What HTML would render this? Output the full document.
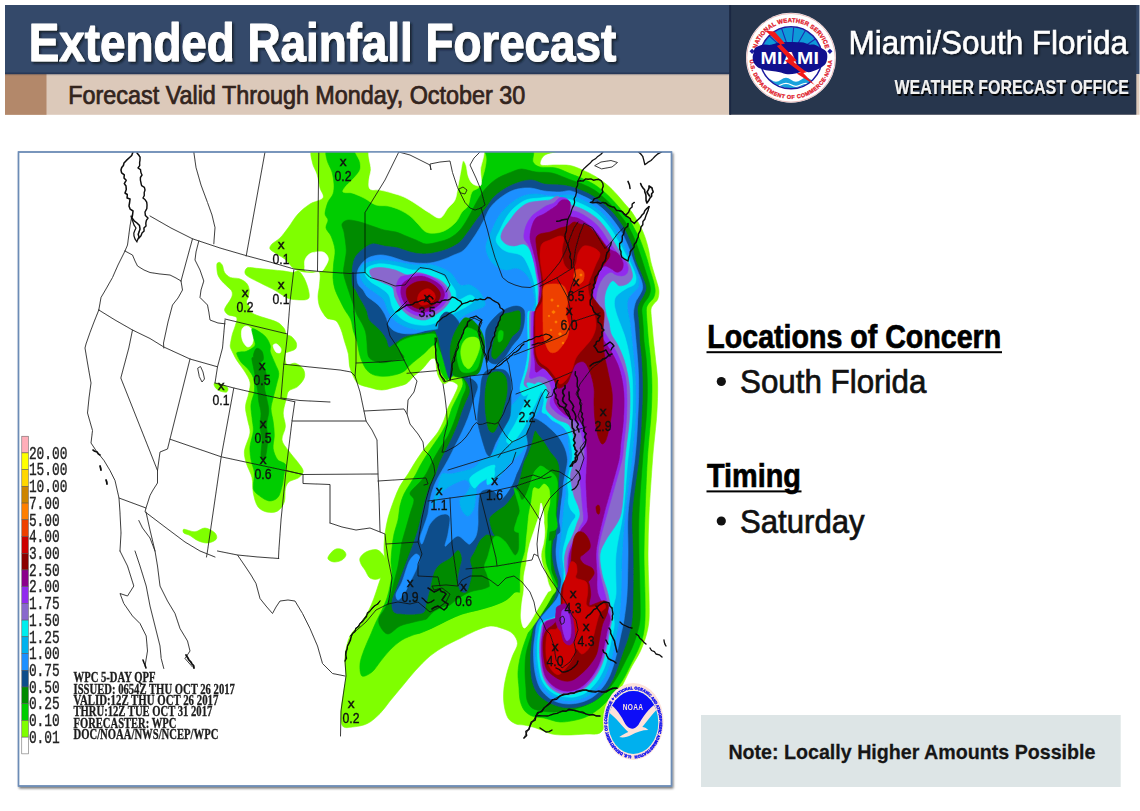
<!DOCTYPE html>
<html><head><meta charset="utf-8"><title>Extended Rainfall Forecast</title>
<style>
html,body{margin:0;padding:0;background:#fff;}
body{width:1140px;height:811px;position:relative;overflow:hidden;font-family:"Liberation Sans",sans-serif;}
#s{position:absolute;left:0;top:0;width:1140px;height:811px;display:block}
</style></head><body>
<svg id="s" width="1140" height="811" viewBox="0 0 1140 811">
<defs>
<filter id="ts" x="-5%" y="-20%" width="110%" height="150%"><feDropShadow dx="2" dy="2" stdDeviation="1.3" flood-color="#0a1424" flood-opacity="0.85"/></filter>
<filter id="ts2" x="-5%" y="-20%" width="110%" height="150%"><feDropShadow dx="1.5" dy="1.5" stdDeviation="0.9" flood-color="#000" flood-opacity="0.7"/></filter>
<filter id="ts3" x="-5%" y="-20%" width="110%" height="160%"><feDropShadow dx="1.6" dy="2" stdDeviation="0.5" flood-color="#000" flood-opacity="0.95"/></filter>
<filter id="bs" x="-2%" y="-2%" width="105%" height="105%"><feDropShadow dx="1.2" dy="1.8" stdDeviation="1.2" flood-color="#000" flood-opacity="0.55"/></filter>
<filter id="mb" x="0" y="0" width="100%" height="100%" filterUnits="userSpaceOnUse"><feGaussianBlur stdDeviation="0.55"/></filter>
<clipPath id="mc"><rect x="19" y="152.5" width="652" height="633"/></clipPath>
</defs>

<rect x="5" y="5" width="1134.5" height="69.2" fill="#34496a"/>
<rect x="5" y="74" width="1134.5" height="40.8" fill="#dcc9ba"/>
<rect x="5" y="74" width="41.5" height="40.8" fill="#b3886a"/>
<linearGradient id="hg" x1="0" y1="0" x2="0" y2="1"><stop offset="0" stop-color="#1c2a48" stop-opacity="0.75"/><stop offset="1" stop-color="#1c2a48" stop-opacity="0"/></linearGradient>
<rect x="5" y="72.6" width="724.3" height="3.2" fill="url(#hg)"/>
<rect x="729.3" y="5" width="407" height="109.7" fill="#27364d"/>
<rect x="729.3" y="5" width="1.8" height="109.7" fill="#1a2742"/>
<text transform="translate(28.80,61.00) scale(0.8557,1)" font-family='"Liberation Sans", sans-serif' font-size="53.5" font-weight="bold" fill="#fff" filter="url(#ts)" stroke="#fff" stroke-width="1.1" stroke-linejoin="round">Extended Rainfall Forecast</text>
<text transform="translate(68.30,104.00) scale(0.9343,1)" font-family='"Liberation Sans", sans-serif' font-size="25" font-weight="normal" fill="#33241d" stroke="#33241d" stroke-width="0.75">Forecast Valid Through Monday, October 30</text>
<text transform="translate(848.50,54.00) scale(0.9382,1)" font-family='"Liberation Sans", sans-serif' font-size="33.5" font-weight="normal" fill="#fff" filter="url(#ts2)" stroke="#fff" stroke-width="0.5">Miami/South Florida</text>
<text transform="translate(894.50,94.00) scale(0.7974,1)" font-family='"Liberation Sans", sans-serif' font-size="20" font-weight="bold" fill="#f1f1f1" filter="url(#ts3)">WEATHER FORECAST OFFICE</text>
<g transform="translate(791,57.8)">
<circle r="45" fill="#fff"/>
<circle r="44.3" fill="none" stroke="#e3a0a0" stroke-width="0.7"/>
<path id="mTop" d="M-35.6,0 A35.6,35.6 0 0 1 35.6,0" fill="none"/>
<path id="mBot" d="M-41.2,0 A41.2,41.2 0 0 0 41.2,0" fill="none"/>
<text font-family='"Liberation Sans", sans-serif' font-size="6.0" font-weight="bold" fill="#e0202c" stroke="#e0202c" stroke-width="0.3" letter-spacing="0.15"><textPath href="#mTop" startOffset="50%" text-anchor="middle">NATIONAL WEATHER SERVICE</textPath></text>
<text font-family='"Liberation Sans", sans-serif' font-size="5.5" font-weight="bold" fill="#e0202c" stroke="#e0202c" stroke-width="0.3" letter-spacing="0.42"><textPath href="#mBot" startOffset="50%" text-anchor="middle">U.S. DEPARTMENT OF COMMERCE·NOAA</textPath></text>
<path d="M-41.5,-6.5l2.6,-2.6l2.6,2.6l-2.6,2.6z M41.5,-6.5l-2.6,-2.6l-2.6,2.6l2.6,2.6z" fill="#1a1aa0"/>
<clipPath id="mcl"><circle r="30.6"/></clipPath>
<circle r="31" fill="#fff"/>
<g clip-path="url(#mcl)">
 <rect x="-32" y="-32" width="64" height="34" fill="#0e9ad8"/>
 <g stroke="#1c2cb0" stroke-width="1.1">
  <path d="M0,-2L-34,-10M0,-2L-26,-26M0,-2L-11,-34M0,-2L3,-34M0,-2L17,-32M0,-2L29,-22M0,-2L36,-8"/>
 </g>
 <path d="M-28,-19 A31,31 0 0 1 28,-19" fill="none" stroke="#1a1aa0" stroke-width="2"/>
 <path d="M-32,12 q5,-3.5 10,0 t10,0 t10,0 t10,0 t10,0 t10,0 v12 h-60z" fill="#fff"/>
 <path d="M-30,22 q5,-4 10,0 t10,0 t10,0 t10,0 t10,0 t10,0 v12 h-60z" fill="#18a2dc"/>
 <path d="M-30,27 q5,-3 10,0 t10,0 t10,0 t10,0 t10,0 t10,0" fill="none" stroke="#fff" stroke-width="1.2"/>
</g>
<circle r="31" fill="none" stroke="#1a1aa0" stroke-width="1.5"/>
<path d="M-37.6,-4.0C-37.3,-5.3 -37.2,-7.9 -36.3,-9.2C-35.4,-10.5 -33.8,-11.3 -32.3,-11.9C-30.7,-12.6 -28.8,-13.0 -27.0,-13.2C-24.9,-13.4 -22.3,-12.7 -20.0,-13.0C-17.6,-13.3 -15.1,-14.8 -12.5,-15.2C-9.3,-15.7 -4.6,-15.8 -0.7,-15.8C3.5,-15.8 9.4,-15.6 12.5,-15.2C14.4,-14.9 16.2,-13.5 18.0,-13.2C19.6,-12.9 21.4,-13.6 23.0,-13.2C24.7,-12.8 26.6,-11.6 28.4,-10.6C30.4,-9.5 33.7,-8.2 35.0,-6.6C36.2,-5.2 36.3,-3.1 36.3,-1.3C36.3,0.7 35.9,3.5 35.0,5.3C34.2,7.0 32.5,8.1 31.0,9.2C29.4,10.3 27.5,11.2 25.7,11.9C23.5,12.8 20.0,14.3 17.8,14.5C16.0,14.7 14.3,13.0 12.5,13.2C10.3,13.4 7.2,15.2 4.6,15.8C2.0,16.3 -0.7,16.7 -3.3,16.5C-5.9,16.3 -8.6,15.1 -11.2,14.5C-13.8,14.0 -16.5,13.6 -19.1,13.2C-21.7,12.8 -24.6,12.6 -27.0,11.9C-29.3,11.3 -31.8,10.5 -33.6,9.2C-35.4,7.9 -36.8,5.8 -37.6,4.0C-38.3,2.4 -38.3,0.0 -38.3,-1.3C-38.3,-2.2 -37.8,-3.1 -37.6,-4.0Z" fill="#10108e"/>
<text transform="translate(-30.4,6.6) scale(1.22,1)" font-family='"Liberation Sans", sans-serif' font-size="16" font-weight="bold" fill="#fff" letter-spacing="0.2">MIAMI</text>
<path d="M-25.5,-27 l9,0.6 l10.5,12 l-4,1.2 l15.8,15.8 l-3.4,1.3 l13.2,10.6 l-3.3,0.7 l11.4,12 l-18,-11.4 l4,-1.3 l-15.9,-11.9 l4,-1.3 l-11.9,-13.2 l3.3,-1.3z" fill="#f01818"/>
</g>
<text transform="translate(707.30,347.80) scale(0.8413,1)" font-family='"Liberation Sans", sans-serif' font-size="34" font-weight="bold" fill="#000" stroke="#000" stroke-width="0.7">Locations of Concern</text>
<rect x="706.5" y="351.2" width="295.5" height="2" fill="#000"/>
<circle cx="721.3" cy="381.5" r="4.6" fill="#111"/>
<text transform="translate(740.00,393.40) scale(0.9355,1)" font-family='"Liberation Sans", sans-serif' font-size="33.5" font-weight="normal" fill="#111" stroke="#111" stroke-width="0.7">South Florida</text>
<text transform="translate(707.00,487.20) scale(0.8483,1)" font-family='"Liberation Sans", sans-serif' font-size="34" font-weight="bold" fill="#000" stroke="#000" stroke-width="0.7">Timing</text>
<rect x="706.5" y="490.4" width="95" height="2" fill="#000"/>
<circle cx="721.3" cy="521" r="4.6" fill="#111"/>
<text transform="translate(740.00,532.80) scale(0.9293,1)" font-family='"Liberation Sans", sans-serif' font-size="33.5" font-weight="normal" fill="#111" stroke="#111" stroke-width="0.7">Saturday</text>
<rect x="701" y="715" width="419.7" height="72" fill="#dde5e6"/>
<text transform="translate(728.40,759.40) scale(0.9449,1)" font-family='"Liberation Sans", sans-serif' font-size="20.8" font-weight="bold" fill="#161616" stroke="#161616" stroke-width="0.25">Note: Locally Higher Amounts Possible</text>
<rect x="18.5" y="152" width="653" height="634" fill="#fff" stroke="#6f8fb8" stroke-width="1.4" filter="url(#bs)"/>
<g clip-path="url(#mc)"><g filter="url(#mb)">
<g stroke-linejoin="round">
<path d="M313.0,150.0C308.7,150.2 311.8,159.0 312.5,163.0C313.2,166.9 315.9,170.2 317.0,174.0C318.2,178.2 319.0,184.0 320.0,188.0C320.8,191.4 324.7,195.3 323.0,198.0C321.3,200.7 314.0,201.4 310.0,204.0C305.8,206.7 301.5,210.2 298.0,214.0C294.3,218.0 291.0,224.0 288.0,228.0C285.4,231.4 282.7,235.3 280.0,238.0C277.6,240.4 273.7,242.2 272.0,244.0C270.8,245.3 269.2,247.4 270.0,249.0C270.8,250.7 274.6,252.4 277.0,254.0C279.7,255.8 283.5,257.8 286.0,260.0C288.3,262.0 290.2,265.3 292.0,267.0C293.4,268.3 295.2,269.3 297.0,270.0C299.0,270.8 301.6,271.6 304.0,272.0C306.5,272.4 309.4,272.4 312.0,272.5C314.5,272.6 318.2,270.4 319.5,272.5C320.8,274.6 319.8,281.0 319.5,285.0C319.3,288.8 318.0,292.8 318.0,296.4C318.0,299.7 318.7,303.5 319.5,306.3C320.2,308.7 321.7,311.0 323.0,313.0C324.3,314.9 325.4,317.2 327.4,318.4C329.6,319.7 333.7,318.9 336.0,320.8C338.3,322.7 339.7,326.4 341.0,329.5C342.4,333.0 343.5,337.7 344.7,341.8C345.9,345.9 347.6,350.0 348.4,354.1C349.2,358.2 348.8,362.8 349.6,366.5C350.4,369.9 351.9,373.4 353.3,376.3C354.6,378.9 355.8,382.0 358.2,383.7C360.9,385.5 365.5,386.4 369.3,387.4C373.2,388.4 377.6,390.0 381.7,390.0C385.8,390.0 389.9,388.4 394.0,387.4C398.1,386.3 403.0,385.5 406.3,383.7C409.3,382.0 411.1,378.7 413.7,376.3C416.4,373.9 419.7,371.7 422.4,369.0C425.3,366.1 428.9,360.7 431.0,359.0C432.1,358.1 434.6,357.7 435.3,359.0C436.2,360.7 436.1,366.1 436.6,369.0C437.0,371.5 437.4,374.0 438.4,376.3C439.5,378.8 441.4,382.9 443.3,383.7C445.2,384.5 447.6,381.5 449.5,381.3C451.2,381.1 453.1,381.7 454.5,382.5C455.9,383.3 458.1,384.4 458.0,386.0C457.9,388.2 455.5,392.7 454.0,396.0C452.3,399.7 449.7,404.0 448.0,408.0C446.4,411.9 445.6,416.1 444.0,420.0C442.3,424.0 440.3,428.3 438.0,432.0C435.7,435.6 432.7,438.7 430.0,442.0C427.3,445.3 424.5,448.5 422.0,452.0C419.3,455.7 416.3,460.3 414.0,464.0C411.9,467.3 410.1,470.7 408.0,474.0C405.7,477.7 402.3,481.8 400.0,486.0C397.7,490.3 395.8,495.2 394.0,500.0C392.0,505.3 389.5,512.3 388.0,518.0C386.6,523.2 385.7,528.7 385.0,534.0C384.3,539.3 384.0,545.3 384.0,550.0C384.0,554.0 385.3,558.0 385.0,562.0C384.7,566.0 383.2,570.0 382.0,574.0C380.8,578.0 379.3,582.0 378.0,586.0C376.7,590.0 375.5,594.1 374.0,598.0C372.3,602.3 370.3,607.7 368.0,612.0C365.7,616.2 362.9,620.2 360.0,624.0C357.0,628.0 352.2,631.3 350.0,636.0C347.5,641.3 345.7,649.3 345.0,656.0C344.3,662.6 346.2,670.2 346.0,676.0C345.8,681.1 344.5,686.0 343.8,691.0C343.0,696.8 341.2,705.2 341.0,711.0C340.8,716.0 340.6,723.3 342.5,726.0C344.4,728.7 349.2,727.3 352.5,727.0C356.7,726.6 362.9,725.8 367.5,723.5C372.1,721.2 376.2,717.2 380.0,713.5C383.8,709.8 386.6,705.1 390.0,701.0C393.8,696.4 398.3,691.0 402.5,686.0C406.7,681.0 410.6,675.8 415.0,671.0C419.6,666.0 425.0,660.2 430.0,656.0C434.6,652.2 440.0,648.9 445.0,646.0C449.8,643.2 455.0,641.0 460.0,638.5C465.0,636.0 470.0,633.1 475.0,631.0C479.9,629.0 485.4,626.4 490.0,626.0C494.2,625.6 498.8,627.2 502.5,628.5C506.0,629.7 510.0,631.0 512.5,633.5C515.0,636.0 517.5,639.8 517.5,643.5C517.5,647.2 514.0,651.8 512.5,656.0C510.8,660.6 508.9,665.9 507.5,671.0C506.1,676.3 504.6,682.5 504.0,688.0C503.4,693.3 503.3,699.0 504.0,704.0C504.6,708.8 506.0,714.7 508.0,718.0C509.7,720.9 513.3,722.8 516.0,724.0C518.5,725.1 521.4,724.5 524.0,725.0C527.3,725.7 532.1,726.7 536.0,728.0C540.7,729.5 546.7,732.8 552.0,734.0C557.2,735.1 562.7,735.0 568.0,735.0C573.7,735.0 580.7,734.3 586.0,734.0C590.7,733.7 596.7,735.0 600.0,733.0C603.3,731.0 604.4,725.8 606.0,722.0C608.0,717.3 609.6,710.5 612.0,705.0C614.7,699.0 619.7,690.5 622.0,686.0C623.4,683.4 624.7,680.7 626.0,678.0C627.7,674.7 629.9,669.9 632.0,666.0C634.3,661.7 637.7,656.9 640.0,652.0C642.3,647.0 644.5,641.3 646.0,636.0C647.5,630.8 648.6,625.4 649.0,620.0C649.5,613.0 649.1,602.7 649.0,594.0C648.8,583.0 648.0,567.3 648.0,554.0C648.0,540.7 648.4,527.3 649.0,514.0C649.8,498.3 651.6,472.6 652.5,460.0C653.0,452.7 653.8,445.0 654.5,438.1C655.1,431.5 656.0,425.0 656.5,418.4C657.0,411.8 657.3,405.3 657.5,398.7C657.7,392.1 657.8,385.6 657.5,379.0C657.2,372.4 656.2,365.5 655.5,359.2C654.9,353.1 654.0,345.9 653.5,341.0C653.1,337.3 652.8,333.7 652.5,330.0C652.2,326.3 651.8,322.5 651.5,319.0C651.3,315.7 650.7,311.6 651.0,309.2C651.2,307.4 652.5,305.8 653.5,304.3C654.6,302.7 656.9,301.3 657.7,299.3C658.6,297.0 659.1,293.6 658.9,290.7C658.7,287.6 657.3,284.1 656.4,280.8C655.5,277.5 654.3,274.3 653.4,271.0C652.4,267.5 651.1,263.2 650.4,259.9C649.7,257.0 649.5,254.1 648.9,251.2C648.2,248.1 647.4,244.6 646.4,241.4C645.4,238.1 644.2,234.7 642.8,231.5C641.4,228.2 639.6,224.9 637.8,221.7C635.9,218.4 634.0,214.9 631.7,211.8C629.5,208.7 626.8,206.1 624.3,203.2C621.8,200.3 619.5,197.3 616.9,194.5C614.0,191.4 610.6,187.7 607.0,184.7C603.3,181.6 598.8,178.5 594.7,176.0C590.7,173.6 586.4,171.7 582.3,169.9C578.3,168.2 574.3,166.3 570.0,165.5C565.6,164.7 560.7,165.1 556.0,165.0C551.2,164.9 543.3,166.2 541.0,165.0C538.9,163.9 541.0,159.8 542.0,158.0C543.0,156.2 545.0,154.8 547.0,154.0C550.2,152.7 565.9,150.1 561.0,150.0C522.0,149.3 354.4,147.8 313.0,150.0Z" fill="#7fff00" stroke="#7fff00" stroke-width="0.6"/>
<path d="M245.0,271.1C245.3,269.9 246.3,268.0 247.8,267.6C249.7,267.1 253.5,268.0 256.3,268.3C260.1,268.6 265.6,269.2 270.3,269.7C275.0,270.2 280.6,270.6 284.4,271.1C287.2,271.5 290.4,272.5 292.8,272.5C294.8,272.5 296.7,270.2 298.5,271.1C300.4,272.0 302.7,275.5 304.1,278.1C305.7,281.2 307.5,286.1 308.3,289.4C309.0,292.1 309.7,296.1 309.0,297.8C308.3,299.4 305.9,299.8 304.1,299.9C301.2,300.1 294.7,299.8 291.4,299.2C288.9,298.8 286.6,297.6 284.4,296.4C281.8,295.0 278.7,292.4 275.9,290.8C273.2,289.2 270.3,288.0 267.5,286.6C264.7,285.2 261.8,283.7 259.0,282.3C256.2,280.9 252.8,279.4 250.6,278.1C248.9,277.1 246.6,275.8 245.7,274.6C245.0,273.7 244.7,272.2 245.0,271.1Z" fill="#7fff00" stroke="#7fff00" stroke-width="0.6"/>
<path d="M216.9,264.0C217.1,262.9 218.8,262.1 219.7,262.4C220.6,262.6 221.9,264.2 222.5,265.5C223.3,267.2 223.3,270.5 224.6,272.5C225.9,274.5 227.9,276.4 230.2,277.4C232.7,278.4 236.7,277.9 239.4,278.8C242.0,279.7 244.8,281.2 246.4,283.0C248.0,284.7 248.8,287.2 249.2,289.4C249.5,291.6 249.0,294.3 248.5,296.4C248.1,298.3 246.3,300.3 246.4,302.0C246.5,303.7 248.5,304.7 249.2,306.3C249.9,307.9 249.2,310.5 250.6,311.9C252.2,313.5 256.1,315.0 259.0,316.1C262.3,317.4 267.0,318.4 270.3,319.6C273.2,320.6 276.5,321.6 278.8,323.1C281.0,324.6 283.1,326.9 284.4,328.8C285.5,330.4 285.3,333.1 286.5,334.4C287.7,335.7 290.1,335.3 291.4,336.5C293.0,337.9 295.6,340.7 296.3,342.8C296.9,344.8 296.8,347.5 295.4,349.0C294.0,350.5 289.7,351.3 288.0,352.0C287.1,352.4 285.5,352.3 285.4,353.3C285.2,355.4 284.9,362.7 286.6,364.4C288.3,366.1 292.6,362.5 295.4,363.3C298.2,364.1 301.7,366.6 303.2,369.0C304.7,371.4 305.2,374.9 304.3,377.7C303.4,380.6 300.2,384.4 297.6,386.6C295.1,388.7 290.6,389.1 288.8,391.0C287.1,392.7 287.2,395.4 286.6,397.7C285.7,401.4 283.4,408.2 283.2,413.0C283.0,417.6 285.6,422.1 285.4,426.6C285.2,431.1 281.4,435.9 282.0,440.0C282.6,444.1 286.3,447.5 288.8,451.0C291.4,454.7 295.2,458.7 297.6,462.0C299.7,464.9 303.0,468.4 303.2,471.0C303.4,473.6 300.9,476.0 298.8,477.6C296.4,479.4 291.0,480.1 288.8,482.0C286.9,483.6 285.9,486.3 285.4,488.7C284.6,492.0 285.6,498.3 284.3,502.0C283.1,505.5 280.6,509.3 277.7,511.0C274.8,512.7 269.9,512.8 266.6,512.0C263.3,511.2 259.7,509.3 257.7,506.4C255.5,503.2 254.2,497.6 253.3,493.0C252.4,488.2 253.1,482.4 252.0,477.6C250.9,472.8 247.9,468.4 246.6,464.0C245.4,459.8 243.9,455.4 244.4,451.0C245.0,445.8 249.4,438.2 250.0,433.0C250.5,428.6 248.4,424.3 247.7,420.0C246.9,415.6 245.3,411.1 245.5,406.6C245.7,402.1 248.1,397.1 248.8,393.0C249.5,389.4 250.7,385.6 250.0,382.0C249.3,378.3 246.5,374.5 244.4,371.0C242.2,367.3 238.8,363.7 236.6,360.0C234.5,356.5 232.1,351.4 231.0,349.0C230.5,347.9 230.1,346.8 230.2,345.6C230.4,343.2 231.5,337.7 232.3,334.4C233.0,331.5 234.5,328.8 235.2,326.0C235.9,323.2 237.8,319.4 236.6,317.5C235.4,315.6 230.1,315.9 228.1,314.7C226.5,313.8 224.9,311.9 224.6,310.5C224.2,309.1 225.3,307.6 226.0,306.3C226.9,304.6 229.1,301.9 230.2,300.0C231.1,298.4 232.1,296.5 232.3,295.0C232.5,293.6 232.3,292.0 231.6,290.8C230.7,289.3 228.3,287.5 226.7,285.9C224.9,284.1 222.6,282.2 221.1,280.2C219.6,278.3 218.2,276.2 217.6,273.9C216.9,271.2 216.6,265.9 216.9,264.0Z" fill="#7fff00" stroke="#7fff00" stroke-width="0.6"/>
<path d="M242.2,328.8C243.0,327.3 244.9,326.0 246.4,326.0C247.9,326.0 250.3,327.2 251.3,328.8C252.5,330.7 253.3,334.6 253.4,337.2C253.5,339.6 252.9,342.6 252.0,344.2C251.2,345.7 249.2,347.2 247.8,347.0C246.4,346.8 244.6,344.5 243.6,342.8C242.5,340.9 241.7,338.1 241.5,335.8C241.3,333.5 241.4,330.4 242.2,328.8Z" fill="#ffffff" stroke="#ffffff" stroke-width="0.6"/>
<path d="M273.1,345.6C273.2,344.3 275.5,343.5 276.7,344.0C278.0,344.5 280.3,347.1 280.9,348.5C281.4,349.8 281.0,352.1 280.2,352.7C279.4,353.3 276.9,353.0 275.9,352.0C274.7,350.8 273.0,346.9 273.1,345.6Z" fill="#ffffff" stroke="#ffffff" stroke-width="0.6"/>
<path d="M214.4,383.3C215.5,382.8 220.0,383.7 222.2,384.4C224.2,385.1 227.0,386.4 227.7,387.7C228.4,389.0 227.9,391.4 226.6,392.0C225.3,392.6 221.8,391.7 220.0,391.0C218.3,390.3 216.4,389.0 215.5,387.7C214.6,386.5 213.3,383.9 214.4,383.3Z" fill="#7fff00" stroke="#7fff00" stroke-width="0.6"/>
<path d="M183.8,529.2C185.6,529.0 191.5,532.0 195.0,531.8C198.5,531.5 201.7,527.8 205.0,528.0C208.3,528.2 213.1,531.1 215.0,533.0C216.5,534.5 217.5,537.6 216.2,539.2C215.0,540.9 210.6,542.8 207.5,543.0C204.4,543.2 200.4,541.8 197.5,540.5C194.7,539.3 192.3,536.8 190.0,535.5C188.0,534.4 184.8,534.0 183.8,533.0C182.9,532.1 182.5,529.4 183.8,529.2Z" fill="#7fff00" stroke="#7fff00" stroke-width="0.6"/>
<path d="M330.0,554.0C331.3,552.3 333.8,549.7 336.0,549.0C338.2,548.3 341.3,549.0 343.0,550.0C344.7,551.0 346.2,553.3 346.0,555.0C345.8,556.7 343.8,558.9 342.0,560.0C340.0,561.2 336.3,562.2 334.0,562.0C331.8,561.8 328.7,560.3 328.0,559.0C327.3,557.7 328.9,555.4 330.0,554.0Z" fill="#7fff00" stroke="#7fff00" stroke-width="0.6"/>
<path d="M360.0,558.0C360.8,556.0 363.5,553.3 366.0,552.0C368.7,550.6 373.3,549.3 376.0,549.6C378.6,549.9 380.8,552.0 382.4,554.0C384.1,556.1 385.8,559.1 386.0,562.0C386.3,565.3 385.3,571.2 384.0,574.0C382.9,576.4 380.3,578.3 378.0,579.0C375.7,579.7 372.2,579.5 370.0,578.0C367.8,576.5 366.5,572.3 365.0,570.0C363.7,568.0 361.8,566.0 361.0,564.0C360.2,562.1 359.2,559.9 360.0,558.0Z" fill="#7fff00" stroke="#7fff00" stroke-width="0.6"/>
<path d="M372.0,148.0C364.8,149.4 371.5,164.7 371.0,170.0C370.7,173.4 369.2,176.8 369.0,180.0C368.8,183.0 368.2,187.3 370.0,189.0C371.8,190.7 376.7,189.4 380.0,190.0C383.7,190.7 388.0,191.8 392.0,193.0C396.0,194.2 400.2,195.2 404.0,197.0C408.0,198.8 412.1,201.5 416.0,204.0C420.0,206.5 424.0,209.7 428.0,212.0C431.9,214.3 436.7,218.7 440.0,218.0C443.3,217.3 445.5,211.0 448.0,208.0C450.3,205.3 453.5,203.2 455.0,200.0C456.7,196.3 457.1,190.7 458.0,186.0C459.0,181.0 460.2,174.2 461.0,170.0C461.6,167.0 462.2,161.8 463.0,161.0C463.8,160.2 465.5,163.4 466.0,165.0C466.9,167.7 467.3,173.8 468.5,177.0C469.5,179.6 470.9,182.7 473.0,184.0C475.1,185.3 479.8,187.3 481.0,185.0C482.2,182.7 480.5,175.0 480.5,170.0C480.5,163.8 488.2,149.5 481.0,148.0C462.9,144.3 390.3,144.3 372.0,148.0Z" fill="#ffffff" stroke="#ffffff" stroke-width="0.6"/>
<path d="M304.7,261.0C305.1,259.2 306.1,257.2 307.4,255.8C308.7,254.4 310.6,253.1 312.6,252.6C315.2,252.0 320.6,251.1 323.2,252.1C325.8,253.1 328.2,256.2 328.4,258.9C328.6,261.6 325.4,266.3 324.2,268.4C323.5,269.6 322.4,271.0 321.0,271.3C319.1,271.7 315.6,271.1 313.0,271.0C310.4,270.9 306.7,271.4 305.3,270.6C304.0,269.9 304.8,267.7 304.7,266.3C304.6,264.7 304.3,262.7 304.7,261.0Z" fill="#ffffff" stroke="#ffffff" stroke-width="0.6"/>
<path d="M542.0,504.0C541.2,503.7 539.8,509.3 539.0,512.0C538.0,515.3 537.1,520.0 536.0,524.0C534.8,528.3 533.3,533.3 532.0,538.0C530.7,543.0 529.2,548.7 528.0,554.0C526.8,559.3 525.8,564.7 525.0,570.0C524.2,575.3 523.5,580.7 523.0,586.0C522.5,591.3 522.3,596.7 522.0,602.0C521.7,607.3 520.7,613.7 521.0,618.0C521.3,621.5 522.5,627.3 524.0,628.0C525.5,628.7 528.3,624.3 530.0,622.0C532.0,619.3 534.0,615.3 536.0,612.0C538.0,608.7 540.3,605.0 542.0,602.0C543.4,599.4 545.6,596.9 546.0,594.0C546.5,590.7 545.6,586.0 545.0,582.0C544.3,577.7 542.8,572.7 542.0,568.0C541.2,563.4 540.2,558.7 540.0,554.0C539.8,549.3 540.5,544.7 541.0,540.0C541.5,535.3 542.5,530.3 543.0,526.0C543.5,522.0 544.2,517.7 544.0,514.0C543.8,510.6 542.8,504.3 542.0,504.0Z" fill="#ffffff" stroke="#ffffff" stroke-width="0.6"/>
<path d="M327.5,150.0C324.2,150.2 326.3,156.7 327.0,160.0C327.8,163.7 330.8,168.0 332.0,172.0C333.1,175.9 333.8,180.3 334.0,184.0C334.2,187.3 334.0,191.0 333.0,194.0C332.0,197.0 329.2,199.1 328.0,202.0C326.7,205.3 325.0,211.0 325.0,214.0C325.0,216.2 327.8,217.8 328.0,220.0C328.2,222.3 325.5,225.3 326.0,228.0C326.5,230.7 329.8,233.1 331.0,236.0C332.5,239.7 334.6,245.3 335.0,250.0C335.4,254.7 333.9,259.3 333.6,264.0C333.3,268.7 332.8,273.8 333.0,278.0C333.2,281.9 333.9,285.8 335.0,289.4C336.1,293.0 338.1,296.5 339.7,299.9C341.3,303.2 342.9,306.5 344.7,309.7C346.6,313.0 349.4,316.1 350.8,319.6C352.2,323.1 352.3,327.0 353.3,330.7C354.3,334.4 356.0,338.0 357.0,341.8C358.0,345.7 358.7,350.8 359.5,354.1C360.1,356.6 360.9,359.1 362.0,361.5C363.2,364.2 364.8,367.9 366.9,370.2C368.9,372.4 371.5,374.1 374.3,375.1C377.2,376.1 380.8,376.3 384.1,376.3C387.4,376.3 390.8,375.9 394.0,375.1C397.3,374.3 401.2,373.0 403.9,371.4C406.4,369.9 407.9,367.2 410.0,365.2C412.2,363.1 414.9,361.1 417.4,359.0C419.9,357.0 422.5,354.9 424.8,352.9C427.0,350.9 429.2,347.9 431.0,346.7C432.2,345.8 434.4,344.3 435.3,345.5C436.2,346.7 436.1,351.2 436.6,354.1C437.1,357.2 437.5,360.8 438.4,364.0C439.3,367.3 440.7,371.2 442.1,373.9C443.3,376.2 445.6,379.6 447.0,380.0C448.4,380.4 449.4,376.9 450.8,376.3C452.2,375.7 454.2,376.5 455.7,376.3C457.2,376.1 459.0,374.0 460.0,375.1C461.2,376.4 463.3,380.9 463.0,384.0C462.7,387.5 459.8,392.1 458.0,396.0C456.2,400.0 453.7,404.0 452.0,408.0C450.4,411.9 449.6,416.1 448.0,420.0C446.3,424.0 444.3,428.1 442.0,432.0C439.7,436.0 436.7,440.0 434.0,444.0C431.3,448.0 428.3,452.3 426.0,456.0C423.9,459.3 421.7,463.0 420.0,466.0C418.6,468.6 417.4,471.4 416.0,474.0C414.3,477.0 412.0,480.7 410.0,484.0C408.0,487.3 405.6,490.5 404.0,494.0C402.3,497.7 400.9,501.9 400.0,506.0C399.0,510.3 399.0,515.4 398.0,520.0C397.0,524.7 395.0,529.3 394.0,534.0C393.0,538.6 392.5,543.3 392.0,548.0C391.5,552.7 391.0,557.7 391.0,562.0C391.0,566.0 392.2,570.0 392.0,574.0C391.8,578.0 390.8,582.0 390.0,586.0C389.2,590.0 388.3,594.1 387.0,598.0C385.7,602.0 383.8,606.1 382.0,610.0C380.2,614.0 377.9,617.9 376.0,622.0C374.0,626.3 372.0,631.3 370.0,636.0C368.0,640.7 365.7,645.3 364.0,650.0C362.4,654.6 360.3,659.7 360.0,664.0C359.7,668.0 360.0,674.7 362.0,676.0C364.0,677.3 369.2,674.2 372.0,672.0C375.0,669.7 377.3,665.3 380.0,662.0C383.0,658.3 386.3,653.7 390.0,650.0C393.7,646.3 397.7,642.7 402.0,640.0C406.3,637.3 411.3,635.9 416.0,634.0C421.0,632.0 426.8,630.3 432.0,628.0C437.3,625.7 443.0,622.3 448.0,620.0C452.6,617.9 457.2,615.6 462.0,614.0C467.0,612.3 473.0,611.3 478.0,610.0C482.7,608.7 487.4,607.6 492.0,606.0C496.7,604.3 502.0,602.7 506.0,600.0C509.9,597.4 513.4,593.9 516.0,590.0C518.7,586.0 520.4,580.8 522.0,576.0C523.7,571.0 524.7,565.3 526.0,560.0C527.3,554.7 528.7,549.0 530.0,544.0C531.3,539.3 532.7,534.7 534.0,530.0C535.3,525.3 536.6,520.6 538.0,516.0C539.5,511.0 541.3,505.0 543.0,500.0C544.6,495.3 546.2,489.7 548.0,486.0C549.5,483.0 553.3,476.3 554.0,478.0C554.7,479.7 552.8,490.0 552.0,496.0C551.2,502.0 550.3,508.0 549.0,514.0C547.7,520.3 544.5,527.3 544.0,534.0C543.5,540.7 545.3,547.3 546.0,554.0C546.7,560.7 547.3,567.3 548.0,574.0C548.7,580.7 550.7,587.3 550.0,594.0C549.3,600.7 546.7,609.7 544.0,614.0C542.0,617.3 536.4,616.9 534.0,620.0C531.2,623.7 529.1,630.6 527.0,636.0C524.8,641.7 522.5,648.0 521.0,654.0C519.5,659.9 518.3,666.3 518.0,672.0C517.7,677.3 518.7,683.3 519.0,688.0C519.3,692.0 519.2,696.3 520.0,700.0C520.8,703.5 522.0,707.3 524.0,710.0C526.0,712.7 528.9,714.8 532.0,716.0C535.3,717.3 540.0,717.2 544.0,718.0C548.7,719.0 554.7,721.7 560.0,722.0C565.3,722.3 571.3,721.0 576.0,720.0C580.1,719.1 584.2,717.9 588.0,716.0C592.0,714.0 596.7,710.7 600.0,708.0C602.9,705.6 605.5,702.8 608.0,700.0C610.7,697.0 613.5,693.5 616.0,690.0C618.7,686.3 621.7,682.0 624.0,678.0C626.3,674.1 628.0,670.0 630.0,666.0C632.3,661.3 635.8,655.0 638.0,650.0C640.0,645.5 641.9,640.8 643.0,636.0C644.2,631.0 644.7,625.4 645.0,620.0C645.3,613.0 645.1,602.7 645.0,594.0C644.8,583.0 644.0,567.3 644.0,554.0C644.0,540.7 644.5,527.3 645.0,514.0C645.5,498.3 646.6,472.6 647.3,460.0C647.7,452.7 648.4,445.0 649.0,438.1C649.6,431.5 650.3,425.0 650.8,418.4C651.3,411.8 651.6,405.3 651.8,398.7C652.0,392.1 652.0,385.6 651.8,379.0C651.6,372.4 651.0,365.5 650.5,359.2C650.0,353.2 649.0,346.0 648.5,341.2C648.1,337.5 647.9,333.8 647.6,330.1C647.3,326.4 647.0,322.7 646.8,319.0C646.6,315.3 646.1,310.7 646.5,308.0C646.8,306.2 647.9,304.5 649.0,303.0C650.1,301.4 652.4,300.1 653.4,298.1C654.4,296.1 655.2,293.2 655.2,290.7C655.2,287.8 654.2,284.1 653.4,280.8C652.6,277.5 651.3,274.3 650.3,271.0C649.3,267.5 648.4,263.6 647.3,259.9C646.2,256.2 644.8,252.3 643.5,248.8C642.3,245.5 641.2,242.1 639.8,238.9C638.3,235.6 636.4,232.3 634.6,229.0C632.8,225.7 631.3,222.3 629.2,219.2C627.1,216.1 624.3,213.5 621.8,210.6C619.3,207.7 617.0,204.7 614.4,201.9C611.7,199.0 608.9,196.0 605.8,193.3C602.5,190.4 598.6,187.2 594.7,184.7C590.8,182.2 586.4,180.3 582.3,178.5C578.3,176.7 574.1,175.2 570.0,173.6C565.6,171.8 560.9,169.1 556.0,168.0C551.0,166.9 543.8,168.0 540.0,167.0C537.2,166.3 534.2,164.6 533.0,162.0C531.7,159.2 536.0,150.2 532.0,150.0C497.8,148.0 361.7,148.3 327.5,150.0Z" fill="#00cd00" stroke="#00cd00" stroke-width="0.6"/>
<path d="M236.6,353.3C236.8,355.0 239.2,359.6 241.0,362.2C242.8,364.7 245.8,366.3 247.7,368.8C249.8,371.4 252.3,374.3 253.3,377.7C254.4,381.4 254.8,386.6 254.4,391.0C254.0,395.4 251.4,399.9 251.0,404.4C250.6,408.8 251.6,413.3 252.0,417.7C252.4,422.1 253.6,426.6 253.3,431.0C253.0,435.8 250.4,441.7 250.0,446.5C249.6,450.9 250.3,455.4 251.0,459.8C251.7,464.2 254.0,468.5 254.4,473.0C254.8,477.8 252.6,485.0 253.3,488.7C253.9,491.5 256.5,493.5 258.8,495.3C261.4,497.3 265.7,500.5 268.8,500.9C271.9,501.3 275.6,499.9 277.7,497.6C279.9,495.2 281.0,490.3 282.0,486.5C283.1,482.4 283.7,476.7 284.3,473.0C284.7,470.1 286.5,466.5 285.4,464.3C284.3,462.1 279.5,462.1 277.7,459.8C275.7,457.2 273.8,452.7 273.2,448.7C272.6,444.6 274.3,439.8 274.3,435.4C274.3,430.9 273.8,426.4 273.2,422.0C272.7,417.6 271.0,412.9 271.0,408.8C271.0,405.0 272.4,401.4 273.2,397.7C274.1,393.6 275.7,388.5 276.6,384.4C277.4,380.7 279.0,376.6 278.8,373.3C278.6,370.1 276.7,367.3 275.5,364.4C274.1,360.8 271.2,355.1 270.3,352.0C269.7,349.9 270.9,347.6 270.3,345.6C269.6,343.1 267.9,339.5 266.0,337.2C264.1,334.9 261.3,333.0 259.0,331.6C256.8,330.3 252.9,327.9 252.0,328.8C251.1,329.7 252.9,334.4 253.4,337.2C253.9,340.0 256.1,343.2 254.9,345.6C253.7,348.0 248.9,350.2 246.4,351.3C244.4,352.1 241.6,351.7 240.0,352.0C238.8,352.2 236.5,352.1 236.6,353.3Z" fill="#00cd00" stroke="#00cd00" stroke-width="0.6"/>
<path d="M356.0,148.0C351.2,148.5 359.3,158.3 360.0,162.0C360.5,164.6 360.9,167.5 360.0,170.0C359.0,172.7 356.2,175.5 354.0,178.0C351.7,180.7 347.8,183.7 346.0,186.0C344.6,187.8 342.0,190.8 343.0,192.0C344.0,193.2 349.1,192.2 352.0,193.0C355.5,194.0 360.1,196.1 364.0,198.0C368.0,200.0 372.0,203.7 376.0,205.0C379.8,206.3 384.1,205.2 388.0,206.0C392.0,206.8 396.3,208.3 400.0,210.0C403.5,211.6 407.0,213.7 410.0,216.0C413.0,218.3 415.3,221.3 418.0,224.0C420.7,226.7 423.0,230.5 426.0,232.0C429.0,233.5 432.7,233.3 436.0,233.0C439.3,232.7 443.0,231.7 446.0,230.0C449.3,228.2 453.3,225.0 456.0,222.0C458.6,219.1 460.0,214.7 462.0,212.0C463.7,209.7 466.7,208.5 468.0,206.0C469.7,202.7 470.0,195.3 472.0,192.0C473.7,189.1 479.3,189.3 480.0,186.0C481.5,179.0 492.5,153.5 481.0,150.0C460.3,143.7 376.2,146.0 356.0,148.0Z" fill="#7fff00" stroke="#7fff00" stroke-width="0.6"/>
<path d="M372.0,148.0C364.8,149.4 371.5,164.7 371.0,170.0C370.7,173.4 369.2,176.8 369.0,180.0C368.8,183.0 368.2,187.3 370.0,189.0C371.8,190.7 376.7,189.4 380.0,190.0C383.7,190.7 388.0,191.8 392.0,193.0C396.0,194.2 400.2,195.2 404.0,197.0C408.0,198.8 412.1,201.5 416.0,204.0C420.0,206.5 424.0,209.7 428.0,212.0C431.9,214.3 436.7,218.7 440.0,218.0C443.3,217.3 445.5,211.0 448.0,208.0C450.3,205.3 453.5,203.2 455.0,200.0C456.7,196.3 457.1,190.7 458.0,186.0C459.0,181.0 460.2,174.2 461.0,170.0C461.6,167.0 462.2,161.8 463.0,161.0C463.8,160.2 465.5,163.4 466.0,165.0C466.9,167.7 467.3,173.8 468.5,177.0C469.5,179.6 470.9,182.7 473.0,184.0C475.1,185.3 479.8,187.3 481.0,185.0C482.2,182.7 480.5,175.0 480.5,170.0C480.5,163.8 488.2,149.5 481.0,148.0C462.9,144.3 390.3,144.3 372.0,148.0Z" fill="#ffffff" stroke="#ffffff" stroke-width="0.6"/>
<path d="M342.0,224.0C342.7,222.0 345.6,220.3 348.0,220.0C351.0,219.7 356.1,221.0 360.0,222.0C364.0,223.0 368.0,224.7 372.0,226.0C376.0,227.3 380.0,229.0 384.0,230.0C387.9,231.0 392.3,231.0 396.0,232.0C399.5,232.9 402.7,234.7 406.0,236.0C409.3,237.3 412.7,238.7 416.0,240.0C419.3,241.3 422.4,243.7 426.0,244.0C429.7,244.3 434.1,243.0 438.0,242.0C442.0,241.0 446.3,240.0 450.0,238.0C453.7,236.0 457.1,233.2 460.0,230.0C463.0,226.7 465.6,222.1 468.0,218.0C471.3,212.3 476.7,201.3 480.0,196.0C482.3,192.4 485.0,189.0 488.0,186.0C491.0,183.0 494.3,180.1 498.0,178.0C502.3,175.5 510.0,172.5 514.0,171.0C516.6,170.0 519.3,168.9 522.0,169.0C525.7,169.2 531.3,171.4 536.0,172.0C541.0,172.7 546.8,171.8 552.0,173.0C557.7,174.3 565.0,177.9 570.0,179.7C574.1,181.2 578.3,182.3 582.3,184.0C586.4,185.8 591.0,187.8 594.7,190.2C598.3,192.5 601.4,195.4 604.5,198.2C607.5,200.9 610.5,204.0 613.2,206.9C615.8,209.7 618.4,212.6 620.6,215.5C622.8,218.3 624.9,221.2 626.7,224.1C628.5,226.9 630.2,229.7 631.7,232.7C633.2,235.8 634.8,239.5 636.0,242.6C637.1,245.4 638.0,248.3 639.0,251.2C640.0,254.1 641.0,257.0 642.0,259.9C643.1,263.2 644.4,267.5 645.5,271.0C646.5,274.3 647.9,277.7 648.7,280.8C649.5,283.7 650.5,286.8 650.5,289.5C650.5,292.1 649.6,294.6 648.5,296.9C647.4,299.1 645.2,300.9 644.1,303.0C643.1,304.9 642.1,307.0 641.9,309.2C641.6,311.9 642.4,315.7 642.6,319.0C642.9,322.5 643.2,326.4 643.4,330.1C643.6,333.8 643.6,337.5 644.0,341.2C644.5,346.1 645.7,353.2 646.2,359.2C646.7,365.5 647.0,372.4 647.2,379.0C647.4,385.6 647.4,392.1 647.2,398.7C647.0,405.3 646.7,411.8 646.2,418.4C645.7,425.0 645.0,431.5 644.4,438.1C643.8,445.0 643.1,452.7 642.6,460.0C641.7,472.6 639.6,498.3 639.0,514.0C638.5,527.3 638.8,540.7 639.0,554.0C639.2,567.3 639.8,583.0 640.0,594.0C640.1,602.7 640.5,613.3 640.0,620.0C639.6,624.8 638.3,629.4 637.0,634.0C635.7,638.7 633.8,643.7 632.0,648.0C630.3,652.1 628.0,656.0 626.0,660.0C624.0,664.0 622.0,668.3 620.0,672.0C618.1,675.4 616.2,678.8 614.0,682.0C611.7,685.3 609.0,689.0 606.0,692.0C603.0,695.0 599.6,697.7 596.0,700.0C592.3,702.3 588.2,704.4 584.0,706.0C579.7,707.7 574.7,709.0 570.0,710.0C565.4,711.0 560.7,711.8 556.0,712.0C551.3,712.2 546.0,711.7 542.0,711.0C538.6,710.4 534.5,709.8 532.0,708.0C529.5,706.2 527.9,703.0 527.0,700.0C526.0,696.7 526.3,692.0 526.0,688.0C525.7,683.3 525.0,677.3 525.0,672.0C525.0,666.3 525.0,659.9 526.0,654.0C527.0,648.0 529.3,641.7 531.0,636.0C532.6,630.6 533.4,624.9 536.0,620.0C538.8,614.7 545.2,608.3 548.0,604.0C550.0,600.9 552.8,597.7 553.0,594.0C553.5,585.7 550.7,567.3 551.0,554.0C551.3,540.7 553.5,524.7 555.0,514.0C556.1,505.9 559.8,496.0 560.0,490.0C560.1,485.8 558.0,481.3 556.0,478.0C554.1,474.8 550.7,469.7 548.0,470.0C545.3,470.3 542.0,476.2 540.0,480.0C537.3,485.0 534.0,493.3 532.0,500.0C530.0,506.5 529.6,513.4 528.0,520.0C526.3,526.7 523.7,534.0 522.0,540.0C520.5,545.3 520.0,551.0 518.0,556.0C516.0,561.0 513.0,566.0 510.0,570.0C507.2,573.8 503.8,577.2 500.0,580.0C496.0,583.0 491.0,586.0 486.0,588.0C481.0,590.0 475.0,590.0 470.0,592.0C465.0,594.0 460.3,597.0 456.0,600.0C451.7,603.0 448.3,607.0 444.0,610.0C439.7,613.0 435.0,616.0 430.0,618.0C425.0,620.0 419.0,620.7 414.0,622.0C409.3,623.3 404.3,624.0 400.0,626.0C395.7,628.0 391.3,634.0 388.0,634.0C384.7,634.0 381.5,628.7 380.0,626.0C378.7,623.7 378.3,620.6 379.0,618.0C379.7,615.3 382.5,612.8 384.0,610.0C385.8,606.7 388.5,602.2 390.0,598.0C391.7,593.3 392.7,587.3 394.0,582.0C395.3,576.7 397.0,570.7 398.0,566.0C398.8,562.0 399.3,558.0 400.0,554.0C400.7,550.0 401.1,546.0 402.0,542.0C403.0,537.7 404.7,532.7 406.0,528.0C407.3,523.3 408.7,518.7 410.0,514.0C411.3,509.3 414.0,503.3 414.0,500.0C414.0,497.6 410.3,495.7 410.0,494.0C409.7,492.5 411.0,491.1 412.0,490.0C413.7,488.0 417.7,484.7 420.0,482.0C422.2,479.5 424.3,476.9 426.0,474.0C428.0,470.7 429.9,465.9 432.0,462.0C434.3,457.7 437.3,452.3 440.0,448.0C442.5,443.9 445.7,440.2 448.0,436.0C450.3,431.7 452.3,426.3 454.0,422.0C455.5,418.1 456.7,414.0 458.0,410.0C459.3,406.0 460.7,401.7 462.0,398.0C463.2,394.6 465.7,391.0 466.0,388.0C466.3,385.3 465.3,382.3 464.0,380.0C462.7,377.7 460.0,375.0 458.0,374.0C456.2,373.1 453.6,374.6 452.0,374.0C450.4,373.4 449.1,371.8 448.3,370.2C447.5,368.5 447.7,366.0 447.0,364.0C446.2,361.7 444.5,359.1 443.3,356.6C442.1,354.1 440.6,351.7 439.6,349.2C438.6,346.8 437.8,344.3 437.2,341.8C436.6,339.4 437.0,335.8 436.0,334.4C435.0,333.0 432.7,333.2 431.0,333.2C428.9,333.2 426.1,334.0 423.6,334.4C420.9,334.8 417.8,335.0 415.0,335.6C412.1,336.2 409.0,337.1 406.3,338.1C403.8,339.1 400.6,340.6 399.0,341.8C397.8,342.7 396.3,344.0 396.5,345.5C396.7,347.1 399.0,349.6 400.2,351.7C401.4,353.7 404.9,356.4 403.9,357.8C402.9,359.2 397.3,359.5 394.0,360.3C390.7,361.1 387.2,362.6 384.1,362.8C381.2,363.0 378.0,362.3 375.5,361.5C373.2,360.7 370.6,359.4 369.3,357.8C368.0,356.2 367.8,353.8 367.5,351.7C367.1,349.0 367.2,345.1 366.9,341.8C366.6,338.5 366.4,335.0 365.6,331.9C364.8,328.9 363.3,326.1 361.9,323.3C360.5,320.4 358.3,317.6 357.0,314.7C355.7,311.9 354.9,308.9 353.9,306.0C352.9,303.1 351.7,300.1 350.8,297.4C350.0,294.9 349.1,292.3 348.4,290.0C347.7,287.9 346.9,285.9 346.3,283.8C345.5,280.9 343.7,276.2 343.5,272.5C343.3,268.8 344.4,265.0 344.9,261.3C345.4,257.6 346.4,253.8 346.3,250.0C346.2,245.1 344.7,236.3 344.0,232.0C343.6,229.3 341.3,226.0 342.0,224.0Z" fill="#008b00" stroke="#008b00" stroke-width="0.6"/>
<path d="M252.0,357.7C252.7,356.6 256.2,358.6 257.7,360.0C259.8,361.9 262.9,365.9 264.4,368.8C265.8,371.5 266.6,374.7 266.6,377.7C266.6,380.7 264.4,383.5 264.4,386.6C264.4,389.9 265.9,394.0 266.6,397.7C267.3,401.8 268.8,406.6 268.8,411.0C268.8,415.4 266.8,419.9 266.6,424.3C266.4,428.7 267.7,433.2 267.7,437.6C267.7,442.1 267.2,447.3 266.6,451.0C266.2,454.0 265.3,459.1 264.4,459.8C263.5,460.5 261.2,457.2 261.0,455.4C260.6,452.1 262.2,444.7 262.0,439.9C261.8,435.4 260.2,430.9 260.0,426.5C259.8,422.1 261.2,417.3 261.0,413.2C260.8,409.4 259.4,405.7 258.8,402.0C258.3,398.4 258.2,394.7 257.7,391.0C257.1,386.9 256.2,381.8 255.5,377.7C254.8,374.0 253.9,369.9 253.3,366.6C252.8,363.6 251.3,358.8 252.0,357.7Z" fill="#008b00" stroke="#008b00" stroke-width="0.6"/>
<path d="M256.3,348.5C257.7,347.6 260.8,349.5 261.9,351.3C263.1,353.2 263.9,357.9 263.3,359.7C262.7,361.5 259.6,362.5 258.0,362.0C256.4,361.5 253.7,359.1 253.4,356.9C253.1,354.6 254.9,349.4 256.3,348.5Z" fill="#008b00" stroke="#008b00" stroke-width="0.6"/>
<path d="M353.3,262.7C353.8,260.3 354.6,258.0 356.0,256.0C357.4,253.9 359.7,251.7 362.0,250.0C364.7,248.0 368.3,244.7 372.0,244.0C375.7,243.3 380.0,245.4 384.0,246.0C388.3,246.7 393.7,247.0 398.0,248.0C402.1,248.9 405.9,251.1 410.0,252.0C414.3,253.0 419.3,254.0 424.0,254.0C428.7,254.0 433.7,253.0 438.0,252.0C442.1,251.1 446.3,249.7 450.0,248.0C453.5,246.4 457.1,244.6 460.0,242.0C463.0,239.3 465.4,235.4 468.0,232.0C471.0,228.0 475.0,222.0 478.0,218.0C480.6,214.6 483.4,211.4 486.0,208.0C488.7,204.5 490.8,200.2 494.0,197.0C497.3,193.7 501.7,190.5 506.0,188.0C510.3,185.5 515.7,183.3 520.0,182.0C523.9,180.8 528.0,179.7 532.0,180.0C536.0,180.3 539.8,183.3 544.0,184.0C548.7,184.8 555.7,184.6 560.0,185.0C563.4,185.3 566.7,185.7 570.0,186.5C573.7,187.5 578.4,189.2 582.3,190.8C586.1,192.4 589.9,194.2 593.4,196.4C596.9,198.6 600.2,201.2 603.3,203.8C606.3,206.3 609.3,209.0 611.9,211.8C614.4,214.5 616.6,217.5 618.7,220.4C620.7,223.2 622.6,226.0 624.3,229.0C626.0,232.1 627.8,235.6 629.2,238.9C630.6,242.1 631.9,245.4 632.9,248.8C633.9,252.3 634.1,256.3 635.3,259.9C636.5,263.6 638.5,267.5 640.0,271.0C641.4,274.3 643.0,277.9 644.0,280.8C644.8,283.2 646.1,285.7 646.0,288.2C645.9,290.7 644.6,293.3 643.6,295.6C642.6,297.8 640.8,299.7 639.8,301.8C638.8,303.8 637.7,305.8 637.5,308.0C637.2,310.9 638.0,315.3 638.3,319.0C638.6,322.7 639.0,326.4 639.2,330.1C639.4,333.8 639.3,337.5 639.6,341.2C640.0,346.0 641.0,353.2 641.4,359.2C641.9,365.5 642.2,372.4 642.4,379.0C642.6,385.6 642.5,392.1 642.4,398.7C642.2,405.3 641.8,411.8 641.5,418.4C641.2,425.0 641.0,431.5 640.6,438.1C640.1,445.0 639.5,452.7 638.7,460.0C637.3,472.6 633.0,498.3 632.0,514.0C631.2,527.3 632.8,540.7 633.0,554.0C633.2,567.3 633.2,583.0 633.0,594.0C632.9,602.7 632.8,612.7 632.0,620.0C631.3,626.1 629.5,632.7 628.0,638.0C626.7,642.8 624.6,647.5 623.0,652.0C621.5,656.3 620.1,660.7 618.5,665.0C616.9,669.3 615.6,673.8 613.5,678.0C611.4,682.2 609.0,686.4 606.0,690.0C602.9,693.8 599.3,697.8 595.0,700.5C590.7,703.2 585.2,705.3 580.0,706.5C574.8,707.7 569.0,708.1 564.0,707.5C559.1,706.9 554.3,705.2 550.0,703.0C545.7,700.8 541.0,697.8 538.0,694.0C535.0,690.2 533.1,685.0 532.0,680.0C530.8,674.3 530.5,666.7 530.5,660.0C530.5,653.3 531.1,646.3 532.0,640.0C532.9,633.9 533.0,627.4 536.0,622.0C539.3,616.0 548.7,608.7 552.0,604.0C554.1,601.1 555.0,597.5 556.0,594.0C557.1,590.2 558.4,584.6 558.4,581.3C558.4,578.7 556.7,576.4 556.0,573.9C555.2,571.0 554.1,567.4 553.5,564.0C552.9,560.3 552.2,555.8 552.2,551.7C552.2,547.6 553.1,543.4 553.5,539.3C553.9,535.2 554.3,531.1 554.7,527.0C555.2,522.7 555.8,517.6 556.3,513.7C556.7,510.4 557.2,507.2 557.6,503.9C558.0,500.6 558.7,497.3 558.8,494.0C558.9,490.7 558.2,487.3 558.2,484.0C558.2,480.0 559.1,474.1 558.8,470.0C558.5,466.4 557.7,462.5 556.3,459.5C554.9,456.6 552.1,454.6 550.2,452.0C548.2,449.1 546.2,445.3 544.0,442.2C541.9,439.2 538.6,435.5 537.2,433.6C536.6,432.8 535.9,430.8 535.4,431.0C534.9,431.2 534.4,433.5 534.0,434.8C533.4,437.1 532.7,441.5 531.7,444.7C530.7,448.0 529.2,451.6 528.0,454.5C526.9,457.1 525.2,459.4 524.3,462.0C523.3,464.9 522.6,468.5 521.8,471.8C521.0,475.1 520.3,478.5 519.3,481.7C518.3,485.0 517.0,488.6 515.6,491.5C514.3,494.2 512.5,496.6 510.7,499.0C508.8,501.5 506.8,504.2 504.5,506.3C502.3,508.3 499.2,509.3 497.0,511.3C494.5,513.6 491.2,516.5 489.7,520.0C488.2,523.5 489.6,528.7 488.0,532.0C486.4,535.3 482.2,536.9 480.0,540.0C477.7,543.3 475.7,548.7 474.0,552.0C472.7,554.7 470.3,557.0 470.0,560.0C469.7,563.0 472.0,566.6 472.0,570.0C472.0,573.7 471.0,578.3 470.0,582.0C469.1,585.5 467.7,590.7 466.0,592.0C464.4,593.3 461.2,591.8 460.0,590.0C458.7,588.0 458.0,583.4 458.0,580.0C458.0,576.3 459.3,571.7 460.0,568.0C460.6,564.7 462.3,561.0 462.0,558.0C461.7,555.0 460.0,550.0 458.0,550.0C456.0,550.0 453.0,555.7 450.0,558.0C447.0,560.3 442.7,561.7 440.0,564.0C437.5,566.2 435.3,568.9 434.0,572.0C432.3,576.0 431.3,582.7 430.0,588.0C428.7,593.3 427.0,600.0 426.0,604.0C425.3,606.7 425.7,610.3 424.0,612.0C422.3,613.7 418.7,613.7 416.0,614.0C412.7,614.3 407.7,614.3 404.0,614.0C400.6,613.7 396.0,614.0 394.0,612.0C392.0,610.0 391.7,605.4 392.0,602.0C392.3,598.3 394.6,594.0 396.0,590.0C397.7,585.3 400.0,579.3 402.0,574.0C404.0,568.7 406.0,563.3 408.0,558.0C410.0,552.7 412.3,546.7 414.0,542.0C415.4,538.0 416.8,534.1 418.0,530.0C419.3,525.3 420.7,519.3 422.0,514.0C423.3,508.7 424.7,502.7 426.0,498.0C427.2,493.9 428.4,489.9 430.0,486.0C431.7,482.0 434.3,478.0 436.0,474.0C437.6,470.1 438.4,465.9 440.0,462.0C441.7,458.0 444.0,454.0 446.0,450.0C448.0,446.0 450.1,442.1 452.0,438.0C454.0,433.7 456.3,428.3 458.0,424.0C459.5,420.1 460.7,415.7 462.0,412.0C463.2,408.6 464.7,405.3 466.0,402.0C467.3,398.7 469.7,395.0 470.0,392.0C470.3,389.3 469.2,386.5 468.0,384.0C466.7,381.3 464.0,378.0 462.0,376.0C460.3,374.3 457.7,372.8 456.0,372.0C454.8,371.4 453.2,371.9 452.0,371.4C450.8,370.9 449.3,370.3 448.9,369.0C448.3,366.9 448.8,361.9 448.3,359.0C447.8,356.5 446.9,354.0 445.8,351.7C444.6,349.0 442.3,345.7 440.9,343.0C439.6,340.6 438.2,337.7 437.2,335.6C436.4,334.0 435.9,331.3 434.7,330.7C433.5,330.1 431.5,331.6 429.8,331.9C427.5,332.3 424.0,332.8 421.1,333.2C418.2,333.6 415.3,333.8 412.5,334.4C409.6,335.0 406.6,335.7 403.9,336.9C401.2,338.1 398.6,340.4 396.5,341.8C394.8,343.0 392.8,344.7 391.5,345.5C390.7,346.0 389.6,347.4 389.0,346.7C388.2,345.7 387.7,341.6 386.6,339.3C385.4,336.8 383.6,334.1 381.7,331.9C379.9,329.7 377.6,327.8 375.5,325.8C373.4,323.8 370.7,322.1 369.3,319.6C367.9,317.1 367.9,313.7 366.9,311.0C365.9,308.4 364.4,305.9 363.2,303.6C362.0,301.5 360.7,299.5 359.5,297.4C358.3,295.1 356.9,292.0 355.8,290.0C354.9,288.3 353.0,287.1 352.6,285.2C352.0,282.5 351.9,277.7 352.0,274.0C352.1,270.2 352.6,265.7 353.3,262.7Z" fill="#104e8b" stroke="#104e8b" stroke-width="0.6"/>
<path d="M357.0,274.0C357.3,271.2 358.4,268.3 360.0,266.0C361.8,263.3 364.7,259.8 368.0,258.0C371.3,256.2 376.0,255.2 380.0,255.0C384.0,254.8 388.1,256.0 392.0,257.0C396.0,258.0 400.0,260.0 404.0,261.0C407.9,262.0 412.0,262.7 416.0,263.0C420.3,263.3 425.7,263.5 430.0,263.0C434.1,262.5 438.1,261.3 442.0,260.0C446.0,258.7 450.3,256.7 454.0,255.0C457.4,253.5 461.3,252.6 464.0,250.0C467.7,246.5 472.7,239.0 476.0,234.0C479.0,229.5 481.7,224.3 484.0,220.0C486.1,216.1 487.4,211.6 490.0,208.0C492.7,204.3 496.2,200.8 500.0,198.0C504.0,195.0 509.0,191.7 514.0,190.0C519.0,188.3 525.0,187.8 530.0,188.0C534.8,188.2 539.3,190.4 544.0,191.0C549.0,191.7 555.7,192.0 560.0,192.0C563.4,192.0 566.7,190.3 570.0,190.8C573.5,191.3 577.4,193.5 581.0,195.1C584.7,196.8 588.7,198.5 592.2,200.7C595.7,202.9 599.1,205.6 602.0,208.1C604.7,210.4 607.2,212.9 609.5,215.5C611.9,218.2 614.2,221.2 616.2,224.1C618.2,226.9 620.1,229.8 621.8,232.7C623.4,235.5 624.8,238.5 626.1,241.4C627.5,244.5 629.0,248.1 630.2,251.2C631.3,254.1 632.1,257.0 633.2,259.9C634.4,263.2 636.2,267.5 637.6,271.0C638.9,274.3 640.7,277.9 641.5,280.8C642.2,283.2 642.9,285.9 642.6,288.2C642.4,290.4 641.0,292.4 640.0,294.4C638.9,296.5 637.2,298.6 636.2,300.6C635.3,302.5 634.7,304.6 634.3,306.7C633.8,308.9 633.4,311.6 633.4,314.1C633.4,317.0 634.2,320.7 634.5,324.0C634.8,327.5 635.1,331.4 635.4,335.1C635.8,339.4 636.4,345.2 636.8,350.0C637.2,354.7 637.6,359.3 637.9,364.0C638.2,368.8 638.5,374.0 638.6,379.0C638.7,384.8 638.7,392.1 638.6,398.7C638.5,405.3 638.0,411.8 637.7,418.4C637.4,425.0 637.2,431.5 636.7,438.1C636.2,445.0 635.5,452.7 634.7,460.0C633.2,472.6 629.1,498.3 628.0,514.0C627.1,527.3 628.2,540.7 628.0,554.0C627.8,567.3 627.7,583.0 627.0,594.0C626.5,602.7 625.0,613.3 624.0,620.0C623.3,624.7 622.0,629.3 621.0,634.0C620.0,638.7 619.1,643.4 618.0,648.0C616.9,652.7 615.8,657.5 614.5,662.0C613.2,666.4 611.9,670.8 610.0,675.0C608.1,679.2 605.9,683.4 603.0,687.0C600.0,690.8 596.2,694.8 592.0,697.5C587.8,700.2 582.8,702.0 578.0,703.0C573.2,704.0 567.7,704.2 563.0,703.5C558.4,702.8 553.8,701.1 550.0,698.5C546.2,695.9 542.4,692.2 540.0,688.0C537.5,683.6 536.0,677.5 535.0,672.0C533.9,666.0 533.5,658.0 533.5,652.0C533.5,646.6 534.2,641.0 535.0,636.0C535.7,631.3 535.6,626.1 538.0,622.0C541.5,616.0 552.5,604.7 556.0,600.0C557.3,598.2 558.4,596.1 559.0,594.0C559.9,590.9 561.4,584.6 561.5,581.3C561.6,578.8 560.2,576.4 559.6,573.9C558.9,571.0 557.7,567.4 557.2,564.0C556.6,560.3 556.0,555.8 556.0,551.7C556.0,547.6 556.8,543.4 557.2,539.3C557.6,535.2 558.0,531.1 558.4,527.0C558.8,522.9 559.2,518.2 559.6,514.7C559.9,511.8 560.3,508.9 560.7,506.0C561.2,502.6 562.0,498.0 562.5,494.0C563.0,489.9 563.1,485.8 563.7,481.7C564.3,477.6 565.6,473.0 566.2,469.3C566.8,466.1 567.7,462.8 567.5,459.5C567.3,456.0 566.4,451.9 565.0,448.4C563.5,444.7 561.4,440.7 558.8,437.3C556.1,433.8 552.3,430.3 549.0,427.4C545.9,424.7 541.8,421.6 539.0,420.0C536.9,418.8 534.0,417.3 532.0,418.0C530.0,418.7 527.9,421.6 527.0,424.0C526.1,426.4 526.6,429.5 526.7,432.3C526.9,435.8 528.4,440.6 528.0,444.7C527.6,448.8 525.7,453.0 524.3,457.0C522.8,461.1 520.5,466.4 519.3,469.3C518.6,471.0 517.6,472.6 516.9,474.3C515.9,476.8 514.8,480.9 513.2,484.0C511.6,487.3 508.9,491.2 507.0,494.0C505.4,496.4 504.0,501.3 502.0,501.0C500.0,500.7 497.3,494.0 495.0,492.0C493.1,490.3 490.5,488.8 488.0,489.0C485.5,489.2 481.3,490.3 480.0,493.0C478.3,496.5 478.3,504.8 478.0,510.0C477.7,514.7 478.3,519.7 478.0,524.0C477.7,528.0 477.3,532.7 476.0,536.0C474.8,539.1 471.7,543.0 470.0,544.0C468.7,544.8 467.2,542.8 466.0,542.0C464.0,540.7 460.7,536.0 458.0,536.0C455.3,536.0 452.2,540.3 450.0,542.0C448.3,543.3 445.3,547.3 445.0,546.0C444.7,544.7 447.3,538.1 448.0,534.0C448.8,529.3 450.3,521.3 450.0,518.0C449.8,516.1 447.9,514.3 446.0,514.0C444.0,513.7 440.3,514.5 438.0,516.0C435.3,517.7 432.0,521.0 430.0,524.0C428.0,527.0 427.3,530.7 426.0,534.0C424.7,537.3 423.0,543.3 422.0,544.0C421.0,544.7 419.8,540.1 420.0,538.0C420.3,535.0 422.7,530.0 424.0,526.0C425.3,522.0 427.1,518.1 428.0,514.0C429.0,509.7 429.0,504.6 430.0,500.0C431.0,495.3 432.3,490.3 434.0,486.0C435.6,481.8 437.9,477.9 440.0,474.0C442.3,469.7 445.5,464.7 448.0,460.0C450.5,455.4 452.7,450.7 455.0,446.0C457.3,441.3 459.8,436.7 462.0,432.0C464.1,427.4 466.3,422.3 468.0,418.0C469.5,414.1 470.7,410.0 472.0,406.0C473.3,402.0 475.0,397.3 476.0,394.0C476.8,391.4 478.3,388.3 478.0,386.0C477.7,383.7 475.8,381.5 474.0,380.0C472.0,378.3 468.7,377.3 466.0,376.0C463.3,374.7 460.3,373.3 458.0,372.0C455.9,370.8 453.1,370.1 452.0,368.0C450.8,365.7 451.0,361.3 451.0,358.0C451.0,354.2 451.8,349.3 452.0,345.0C452.2,340.7 452.3,335.8 452.0,332.0C451.7,328.6 451.3,324.3 450.0,322.0C448.8,319.9 446.0,318.3 444.0,318.0C442.0,317.7 439.3,318.7 438.0,320.0C436.7,321.3 436.8,324.8 436.0,326.0C435.5,326.8 434.3,326.6 433.5,327.0C432.2,327.6 430.2,328.8 428.5,329.5C426.4,330.3 423.6,331.3 421.1,331.9C418.2,332.6 414.6,333.6 411.3,333.8C408.0,334.0 404.3,333.7 401.4,333.2C398.8,332.7 396.1,331.9 394.0,330.7C392.0,329.5 390.2,327.8 389.0,325.8C387.8,323.8 387.6,320.8 386.6,318.4C385.6,315.9 384.3,313.3 382.9,311.0C381.5,308.8 379.9,306.7 378.0,304.8C376.1,302.9 373.7,301.3 371.8,299.9C370.2,298.6 368.2,297.7 366.9,296.2C365.5,294.6 364.6,291.9 363.2,290.0C361.7,288.0 359.0,286.5 358.0,284.0C357.0,281.3 356.7,277.0 357.0,274.0Z" fill="#1e90ff" stroke="#1e90ff" stroke-width="0.6"/>
<path d="M486.0,246.0C486.5,241.3 489.8,235.0 492.0,230.0C494.1,225.2 496.2,220.2 499.0,216.0C501.8,211.9 505.2,208.2 509.0,205.0C512.8,201.7 517.5,198.2 522.0,196.4C526.4,194.6 531.3,194.1 536.0,194.0C540.7,193.9 545.3,195.8 550.0,196.0C555.7,196.2 565.0,194.6 570.0,195.1C573.5,195.4 576.7,197.4 579.9,198.8C583.4,200.4 587.5,202.2 591.0,204.4C594.5,206.6 598.0,209.3 600.8,211.8C603.3,214.0 605.4,216.6 607.6,219.2C609.8,221.8 611.9,224.5 613.8,227.2C615.6,229.8 617.2,232.5 618.7,235.2C620.2,238.0 621.6,240.9 623.0,243.8C624.5,246.9 626.4,251.0 627.8,253.7C628.9,255.8 630.6,257.7 631.6,259.9C633.0,262.8 634.8,267.7 636.0,271.0C637.0,273.8 638.4,276.9 638.8,279.6C639.1,282.1 639.0,284.9 638.2,287.0C637.4,289.0 635.3,290.3 633.8,291.9C632.3,293.5 630.4,295.0 629.3,296.9C628.2,298.7 627.4,300.9 627.2,303.0C627.0,305.5 627.4,308.8 627.8,311.7C628.2,314.8 629.3,318.2 629.8,321.5C630.3,324.8 630.6,328.1 631.0,331.4C631.4,334.7 631.7,337.9 632.0,341.2C632.5,345.8 633.3,353.5 633.8,359.0C634.3,364.0 634.7,369.0 635.0,374.0C635.3,378.9 635.5,383.9 635.6,388.8C635.7,394.6 635.7,401.9 635.6,408.5C635.5,415.1 635.2,421.7 634.7,428.3C634.2,434.9 633.3,442.7 632.8,448.0C632.4,452.0 632.3,456.0 631.8,460.0C630.5,471.0 626.6,498.3 625.0,514.0C623.6,527.3 622.7,540.7 622.0,554.0C621.3,567.3 621.5,583.0 621.0,594.0C620.6,602.7 619.7,613.7 619.0,620.0C618.6,624.0 617.7,628.0 617.0,632.0C616.2,636.3 615.5,641.4 614.5,646.0C613.5,650.7 612.3,655.5 611.0,660.0C609.7,664.4 608.4,668.8 606.5,673.0C604.6,677.2 602.4,681.4 599.5,685.0C596.6,688.7 592.9,692.5 589.0,695.0C585.1,697.5 580.5,699.2 576.0,700.0C571.5,700.8 566.3,700.9 562.0,700.0C557.7,699.1 553.5,697.2 550.0,694.5C546.5,691.8 543.1,688.1 541.0,684.0C538.8,679.6 537.4,673.5 536.5,668.0C535.6,662.3 535.4,655.7 535.5,650.0C535.6,644.6 536.2,638.7 537.0,634.0C537.7,629.9 537.0,624.8 540.0,622.0C543.5,618.7 554.5,618.7 558.0,614.0C561.5,609.3 560.3,600.7 561.0,594.0C561.7,587.3 562.2,578.9 562.1,573.9C562.0,570.5 560.7,567.3 560.3,564.0C559.9,560.3 559.5,555.8 559.6,551.7C559.7,547.6 560.5,543.4 560.9,539.3C561.3,535.2 561.7,531.1 562.1,527.0C562.5,522.9 562.9,518.8 563.3,514.7C563.7,510.6 564.1,505.8 564.6,502.3C565.0,499.5 566.1,496.8 566.2,494.0C566.4,490.6 565.3,485.8 565.6,481.7C565.9,477.6 567.3,473.4 568.0,469.3C568.7,465.2 569.9,461.1 570.0,457.0C570.1,452.9 569.1,448.8 568.7,444.7C568.3,440.6 568.3,436.4 567.5,432.3C566.7,428.2 565.5,423.9 563.7,420.0C561.8,415.9 558.3,411.7 556.0,408.0C553.9,404.7 551.3,400.7 550.0,398.0C549.1,396.1 549.0,391.7 548.0,392.0C547.0,392.3 545.3,397.3 544.0,400.0C542.3,403.3 540.0,408.7 538.0,412.0C536.3,414.9 533.5,417.4 532.0,420.0C530.7,422.3 529.7,424.8 529.2,427.4C528.5,430.7 528.8,436.2 528.0,439.7C527.3,442.8 525.8,445.9 524.3,448.4C523.0,450.7 521.2,452.6 519.3,454.5C517.2,456.6 514.3,458.4 512.0,460.7C509.5,463.2 506.8,466.4 504.5,469.3C502.3,472.1 500.8,475.9 498.4,478.0C496.1,480.0 492.4,481.7 490.0,482.0C487.9,482.3 486.0,479.7 484.0,480.0C482.0,480.3 479.2,481.9 478.0,484.0C476.7,486.3 476.6,490.6 476.0,494.0C475.3,498.0 475.3,504.3 474.0,508.0C472.9,511.1 470.0,515.7 468.0,516.0C466.0,516.3 463.3,512.5 462.0,510.0C460.7,507.3 459.3,502.7 460.0,500.0C460.7,497.3 464.4,496.3 466.0,494.0C467.7,491.7 470.0,488.3 470.0,486.0C470.0,483.7 468.0,480.7 466.0,480.0C464.0,479.3 460.6,481.0 458.0,482.0C455.3,483.0 452.5,484.4 450.0,486.0C447.3,487.7 444.2,489.5 442.0,492.0C439.7,494.7 437.7,499.3 436.0,502.0C434.7,504.0 432.3,508.7 432.0,508.0C431.7,507.3 433.1,501.3 434.0,498.0C435.0,494.3 436.7,490.0 438.0,486.0C439.3,482.0 440.0,476.0 442.0,474.0C443.9,472.1 447.3,474.3 450.0,474.0C453.0,473.7 456.7,472.8 460.0,472.0C463.3,471.2 467.5,470.2 470.0,469.3C471.8,468.7 473.5,468.0 475.0,466.9C476.8,465.5 478.8,462.3 481.0,460.7C483.2,459.1 486.2,458.6 488.5,457.0C490.8,455.4 493.1,453.3 494.7,450.8C496.6,447.9 498.4,443.2 499.6,439.7C500.7,436.6 501.3,433.3 502.0,430.0C502.7,426.7 502.8,423.2 504.0,420.0C505.3,416.3 507.5,411.7 510.0,408.0C512.7,404.0 517.0,399.7 520.0,396.0C522.7,392.7 526.0,389.0 528.0,386.0C529.7,383.5 531.7,381.0 532.0,378.0C532.7,372.3 531.9,359.7 532.0,352.0C532.1,345.3 532.4,338.7 532.4,332.0C532.4,325.3 531.6,317.0 532.0,312.0C532.3,308.5 534.8,305.5 535.0,302.0C535.2,298.3 533.8,293.7 533.0,290.0C532.2,286.6 531.5,283.0 530.0,280.0C528.5,277.0 526.3,274.0 524.0,272.0C521.7,270.1 519.0,268.3 516.0,268.0C513.0,267.7 509.3,270.3 506.0,270.0C502.7,269.7 498.8,268.0 496.0,266.0C493.2,264.0 490.6,261.2 489.0,258.0C487.3,254.7 485.6,250.1 486.0,246.0Z" fill="#00b2ee" stroke="#00b2ee" stroke-width="0.6"/>
<path d="M496.0,240.0C495.8,237.0 498.5,233.3 500.0,230.0C501.7,226.3 503.7,221.7 506.0,218.0C508.3,214.4 510.8,210.9 514.0,208.0C517.3,205.0 521.7,201.7 526.0,200.0C530.3,198.3 535.7,198.5 540.0,198.0C544.0,197.5 548.0,196.8 552.0,197.0C557.0,197.2 565.4,198.5 570.0,199.5C573.4,200.3 576.7,201.8 579.9,203.2C583.2,204.6 586.6,206.2 589.7,208.1C592.9,210.1 596.3,212.5 599.0,214.9C601.5,217.1 603.6,219.7 605.8,222.3C607.9,224.9 610.0,227.5 611.9,230.3C613.7,233.1 615.3,236.2 616.9,238.9C618.4,241.4 620.0,243.8 621.4,246.3C622.9,249.0 624.6,252.4 626.0,255.0C627.3,257.4 628.8,259.6 630.0,262.0C631.3,264.7 633.0,268.3 634.0,271.0C634.9,273.4 636.0,276.1 636.0,278.4C636.0,280.5 635.7,283.0 634.3,284.5C632.8,286.1 629.3,286.8 626.9,288.2C624.4,289.6 621.5,291.5 619.5,293.2C617.8,294.6 615.9,296.1 615.1,298.1C614.3,300.2 614.2,303.0 614.5,305.5C614.8,308.4 616.0,312.2 617.0,315.4C618.0,318.7 619.5,321.9 620.7,325.2C621.9,328.5 623.3,331.7 624.4,335.1C625.5,338.7 626.7,343.0 627.6,347.0C628.6,351.5 629.7,357.0 630.4,362.0C631.2,367.5 632.1,374.0 632.4,380.0C632.8,386.8 632.8,395.5 632.7,402.6C632.6,409.2 632.3,415.8 631.8,422.4C631.3,429.0 630.5,435.8 629.8,442.1C629.2,448.1 628.4,454.0 627.8,460.0C626.7,472.0 625.0,498.3 623.0,514.0C621.3,527.4 617.2,540.7 616.0,554.0C614.8,567.3 616.5,584.7 616.0,594.0C615.7,599.3 613.1,604.5 612.8,609.6C612.5,614.6 614.5,619.5 614.3,624.4C614.1,629.3 612.4,634.3 611.4,639.2C610.4,644.1 609.6,649.1 608.4,654.0C607.2,658.9 606.0,664.1 604.0,668.8C602.0,673.4 599.6,678.1 596.6,682.0C593.6,685.9 589.9,689.9 586.2,692.4C582.7,694.7 578.6,696.3 574.4,696.9C570.0,697.5 564.2,697.1 560.0,696.0C556.0,694.9 552.1,692.8 549.0,690.0C545.9,687.2 543.1,683.1 541.5,679.0C539.7,674.3 538.7,667.7 538.0,662.0C537.3,656.4 537.3,650.0 537.5,645.0C537.6,640.6 538.2,635.8 539.0,632.0C539.7,628.6 539.4,624.3 542.0,622.0C545.5,619.0 556.5,618.7 560.0,614.0C563.5,609.3 562.4,600.7 563.0,594.0C563.7,586.5 564.0,574.8 564.0,569.0C564.0,565.6 562.8,562.3 562.7,559.0C562.6,555.7 562.8,552.4 563.3,549.2C563.8,545.9 565.0,542.6 565.8,539.3C566.6,536.0 567.3,532.4 568.3,529.5C569.2,526.9 570.8,524.3 572.0,522.0C573.1,519.9 575.9,517.9 575.7,515.9C575.5,513.9 572.0,512.0 570.8,509.7C569.6,507.4 568.6,504.9 568.3,502.3C567.9,499.7 568.8,496.8 568.7,494.0C568.6,490.6 567.3,485.8 567.5,481.7C567.7,477.6 569.2,473.4 570.0,469.3C570.8,465.2 572.2,461.1 572.4,457.0C572.6,452.9 571.7,448.4 571.1,444.7C570.5,441.4 570.2,437.9 568.7,434.8C567.2,431.7 564.8,428.4 562.0,426.0C559.2,423.5 554.7,422.0 552.0,420.0C549.7,418.3 547.7,415.3 546.0,414.0C544.8,413.1 542.2,413.5 542.0,412.0C541.7,409.7 544.0,403.3 544.0,400.0C544.0,397.3 543.7,393.7 542.0,392.0C540.3,390.3 536.7,389.4 534.0,390.0C531.0,390.7 526.3,396.3 524.0,396.0C521.7,395.7 519.9,391.0 520.0,388.0C520.2,383.7 523.7,376.0 525.0,370.0C526.3,364.1 527.7,358.1 528.0,352.0C528.5,342.3 526.7,318.7 528.0,312.0C528.5,309.4 534.9,314.4 536.0,312.0C537.3,309.0 536.3,299.0 536.0,294.0C535.7,290.0 535.0,285.9 534.0,282.0C533.0,278.0 531.6,273.9 530.0,270.0C528.3,266.0 526.0,260.7 524.0,258.0C522.6,256.1 520.3,254.8 518.0,254.0C515.3,253.0 510.8,253.0 508.0,252.0C505.5,251.1 502.9,249.9 501.0,248.0C499.0,246.0 496.2,243.0 496.0,240.0Z" fill="#00eeee" stroke="#00eeee" stroke-width="0.6"/>
<path d="M501.0,238.0C500.5,235.7 501.8,232.5 503.0,230.0C504.5,227.0 507.6,223.3 510.0,220.0C512.5,216.7 515.0,212.8 518.0,210.0C521.0,207.2 524.3,204.5 528.0,203.0C531.7,201.5 536.3,201.5 540.0,201.0C543.3,200.5 547.0,200.8 550.0,200.0C552.8,199.3 555.1,195.8 558.0,196.4C561.3,197.1 566.6,202.6 570.0,204.4C572.7,205.8 575.8,206.3 578.6,207.5C581.7,208.8 585.4,210.6 588.5,212.4C591.5,214.2 594.5,216.3 597.1,218.6C599.6,220.8 601.8,223.4 603.9,226.0C605.9,228.5 607.8,231.2 609.5,234.0C611.2,236.8 612.7,239.7 614.4,242.6C616.1,245.5 617.8,248.5 619.5,251.2C621.1,253.8 623.0,257.2 624.4,259.0C625.4,260.2 627.2,260.7 628.1,262.0C629.3,263.8 630.7,267.2 631.4,269.7C632.1,272.1 632.9,274.8 632.4,277.1C631.9,279.4 630.2,281.9 628.1,283.3C626.0,284.8 622.1,286.2 619.5,285.8C616.9,285.4 614.8,280.4 612.7,280.8C610.6,281.2 608.4,285.5 607.1,288.2C605.8,290.9 605.1,294.0 604.7,296.9C604.3,299.7 604.4,302.6 604.7,305.5C605.0,308.6 605.8,312.5 606.5,315.4C607.1,318.0 608.4,320.4 609.0,323.0C609.8,326.0 609.7,330.2 611.0,333.5C612.5,337.2 615.9,341.3 618.0,345.4C620.1,349.7 622.3,354.5 623.9,359.2C625.5,364.1 626.8,369.7 627.8,375.0C628.8,380.2 629.5,385.5 629.8,390.8C630.1,396.7 630.0,404.6 629.8,410.5C629.7,415.8 629.3,421.0 628.8,426.3C628.3,431.6 627.4,436.8 626.8,442.1C626.1,447.7 625.4,454.0 624.9,460.0C623.9,472.0 624.1,500.7 621.0,514.0C618.7,523.7 609.5,533.3 606.0,540.0C603.6,544.5 600.6,549.0 600.0,554.0C599.3,559.7 600.7,567.4 602.0,574.0C603.3,580.7 606.5,587.2 608.0,594.0C609.6,601.2 611.5,610.7 611.8,617.0C612.0,622.0 610.4,627.0 609.6,632.0C608.7,637.1 607.8,642.4 606.6,647.5C605.3,652.9 604.1,659.3 602.0,664.5C600.0,669.5 597.3,674.3 594.2,678.5C591.1,682.6 587.3,686.8 583.3,689.5C579.3,692.1 574.1,693.9 570.0,694.5C566.2,695.0 562.0,694.3 558.5,693.0C555.0,691.7 551.6,689.2 549.0,686.5C546.4,683.8 544.3,680.2 543.0,676.5C541.5,672.1 540.6,665.2 540.0,660.0C539.4,655.0 539.3,649.7 539.5,645.0C539.7,640.6 540.2,635.8 541.0,632.0C541.7,628.6 541.4,624.3 544.0,622.0C547.5,619.0 558.5,618.7 562.0,614.0C565.5,609.3 564.4,600.3 565.0,594.0C565.6,588.1 565.9,580.9 565.8,576.3C565.8,573.0 564.8,569.8 564.6,566.5C564.4,563.2 564.2,559.9 564.6,556.6C565.0,553.3 566.1,549.6 567.1,546.7C568.0,544.1 569.6,541.8 570.8,539.3C572.0,536.6 573.5,533.4 574.5,530.7C575.4,528.3 576.2,525.8 577.0,523.3C577.9,520.6 579.8,517.6 580.0,514.7C580.2,511.8 579.1,508.8 578.2,506.0C577.3,503.1 575.5,500.2 574.5,497.4C573.6,494.7 572.9,491.8 572.4,489.0C571.7,485.4 570.5,479.2 570.5,475.5C570.5,472.6 571.7,469.8 572.4,466.9C573.1,463.8 574.5,460.4 574.9,457.0C575.3,453.3 575.3,448.8 574.9,444.7C574.5,440.6 573.5,435.8 572.4,432.3C571.4,429.3 570.4,426.0 568.0,424.0C565.6,421.9 561.0,421.7 558.0,420.0C555.1,418.4 552.0,416.0 550.0,414.0C548.3,412.3 546.3,410.4 546.0,408.0C545.7,405.0 548.0,399.7 548.0,396.0C548.0,392.6 547.7,388.3 546.0,386.0C544.3,383.7 540.7,381.7 538.0,382.0C535.3,382.3 532.3,387.7 530.0,388.0C527.7,388.3 524.2,386.4 524.0,384.0C523.7,380.7 527.0,373.3 528.0,368.0C529.0,362.7 529.8,357.4 530.0,352.0C530.3,342.7 528.8,318.7 530.0,312.0C530.4,309.7 535.8,314.0 537.0,312.0C538.3,309.7 537.8,302.3 538.0,298.0C538.2,294.0 538.3,290.0 538.0,286.0C537.7,282.0 536.7,278.0 536.0,274.0C535.3,270.0 535.0,265.9 534.0,262.0C533.0,258.0 531.7,253.0 530.0,250.0C528.6,247.5 526.7,244.7 524.0,244.0C521.3,243.3 517.0,246.0 514.0,246.0C511.3,246.0 508.2,245.3 506.0,244.0C503.8,242.7 501.5,240.3 501.0,238.0Z" fill="#8968cd" stroke="#8968cd" stroke-width="0.6"/>
<path d="M524.0,238.0C523.5,234.7 524.7,229.7 526.0,226.0C527.3,222.3 529.7,218.7 532.0,216.0C534.2,213.5 537.7,211.7 540.0,210.0C542.0,208.6 543.9,207.1 546.0,206.0C548.3,204.8 551.7,204.4 554.0,203.0C556.3,201.6 557.7,198.2 560.0,197.6C562.3,197.0 566.3,197.6 568.0,199.6C569.7,201.6 568.2,207.2 570.0,209.3C571.8,211.4 575.8,211.1 578.6,212.4C581.5,213.7 584.5,215.5 587.3,217.3C590.1,219.2 592.9,221.3 595.3,223.5C597.5,225.6 599.6,227.9 601.4,230.3C603.4,232.9 605.2,236.2 607.0,238.9C608.7,241.4 610.5,244.0 612.3,246.3C614.0,248.6 615.9,251.1 617.5,253.0C618.9,254.7 620.7,256.7 622.0,258.0C623.1,259.1 624.7,259.7 625.5,261.0C626.5,262.6 627.9,265.2 628.1,267.3C628.3,269.4 627.9,272.0 626.9,273.4C625.9,274.8 623.8,275.7 621.9,275.9C620.0,276.1 617.6,275.3 615.8,274.7C614.0,274.1 612.6,272.0 610.8,272.2C608.9,272.4 606.4,274.2 604.7,275.9C602.9,277.8 601.0,280.6 599.7,283.3C598.4,286.2 597.2,289.9 596.6,293.2C596.0,296.4 595.7,299.9 595.9,303.0C596.1,306.1 597.0,309.1 598.0,312.0C599.1,315.1 601.6,318.8 602.5,321.7C603.2,324.2 602.3,327.1 603.2,329.6C604.3,332.6 607.1,336.2 609.1,339.5C611.2,343.1 614.0,347.2 616.0,351.3C618.1,355.6 620.3,360.5 621.9,365.1C623.5,369.6 625.0,374.3 625.8,379.0C626.6,383.9 626.6,389.5 626.8,394.7C627.0,399.9 627.0,405.2 626.8,410.5C626.6,415.8 626.3,421.0 625.8,426.3C625.3,431.6 624.5,436.8 623.9,442.1C623.2,447.7 623.3,454.2 621.9,460.0C619.1,472.0 610.6,500.7 607.0,514.0C604.6,522.7 601.5,533.3 600.0,540.0C599.0,544.6 598.0,549.3 598.0,554.0C598.0,559.7 598.8,567.4 600.0,574.0C601.2,580.7 603.4,587.3 605.0,594.0C606.8,601.2 610.0,610.7 610.5,617.0C610.9,622.0 609.1,627.0 608.2,632.0C607.3,637.0 606.4,642.0 605.2,647.0C604.0,652.2 602.7,658.5 600.7,663.5C598.7,668.3 596.0,672.9 593.0,677.0C590.0,681.1 586.3,685.4 582.5,688.0C578.8,690.5 573.9,692.0 570.0,692.5C566.3,693.0 562.3,692.2 559.0,691.0C555.7,689.8 552.5,687.6 550.0,685.0C547.5,682.4 545.3,679.0 544.0,675.5C542.5,671.3 541.6,665.1 541.0,660.0C540.4,655.0 540.3,649.7 540.5,645.0C540.7,640.6 541.2,635.8 542.0,632.0C542.7,628.6 542.3,624.2 545.0,622.0C548.7,619.0 560.5,618.7 564.0,614.0C567.5,609.3 565.6,600.7 566.0,594.0C566.5,585.7 566.7,570.6 567.1,564.0C567.3,560.7 567.7,557.2 568.3,554.1C568.9,551.2 569.6,548.2 570.8,545.5C572.0,542.6 574.2,539.9 575.7,536.9C577.2,533.8 578.7,529.8 580.0,527.0C581.1,524.6 583.3,522.6 583.5,520.0C583.9,516.1 582.6,509.1 582.2,503.9C581.8,498.9 581.4,493.1 581.0,489.0C580.7,485.7 579.8,482.5 579.8,479.2C579.8,475.5 580.2,470.9 581.0,466.9C581.8,462.8 584.3,458.2 584.7,454.5C585.1,451.2 584.0,447.9 583.5,444.7C582.9,441.0 582.2,436.1 581.0,432.3C579.8,428.7 578.5,424.4 576.0,422.0C573.5,419.6 569.2,419.6 566.0,418.0C562.7,416.3 558.7,414.3 556.0,412.0C553.5,409.8 550.7,407.3 550.0,404.0C549.3,400.7 552.3,396.0 552.0,392.0C551.7,388.0 550.0,382.7 548.0,380.0C546.2,377.6 543.0,376.3 540.0,376.0C537.0,375.7 531.5,379.7 530.0,378.0C528.5,376.3 530.8,370.0 531.0,366.0C531.3,361.7 531.5,356.7 531.6,352.0C531.8,343.0 531.0,318.7 532.0,312.0C532.3,310.2 536.5,313.0 537.6,312.0C538.7,311.0 538.2,308.0 538.4,306.0C538.7,303.0 539.6,298.0 539.6,294.0C539.6,290.0 539.0,286.0 538.4,282.0C537.8,278.0 536.9,274.0 536.0,270.0C535.1,266.0 534.2,262.0 533.0,258.0C531.8,254.0 530.5,249.3 529.0,246.0C527.7,243.1 524.5,241.1 524.0,238.0Z" fill="#912cee" stroke="#912cee" stroke-width="0.6"/>
<path d="M530.0,238.0C529.8,234.0 531.0,229.3 532.0,226.0C532.9,223.1 534.0,220.0 536.0,218.0C538.0,216.0 541.7,215.3 544.0,214.0C546.1,212.8 548.0,211.3 550.0,210.0C552.0,208.7 554.2,207.5 556.0,206.0C558.0,204.3 559.7,200.7 562.0,200.0C564.3,199.3 568.7,199.6 570.0,202.0C571.3,204.6 568.8,212.8 570.0,215.5C571.1,217.9 575.0,216.9 577.4,218.0C580.1,219.2 583.3,221.1 586.0,222.9C588.6,224.7 591.1,226.8 593.4,229.0C595.7,231.2 597.7,233.9 599.6,236.4C601.5,238.9 603.1,241.7 605.0,244.0C606.8,246.2 609.0,248.6 611.0,250.0C612.7,251.2 615.2,251.3 616.8,252.5C618.4,253.7 619.7,255.6 620.7,257.4C621.8,259.2 623.0,261.6 623.2,263.6C623.4,265.7 622.9,268.3 621.9,269.7C620.9,271.1 618.8,272.4 617.0,272.2C615.1,272.0 612.8,269.5 610.8,268.5C608.8,267.5 606.6,265.6 604.7,266.0C602.9,266.4 601.1,269.1 599.7,271.0C598.2,273.1 596.9,275.8 596.0,278.4C595.0,281.3 594.1,284.9 593.6,288.2C593.0,291.7 592.5,296.0 592.6,299.3C592.7,302.2 593.2,305.2 594.0,308.0C594.8,310.8 597.1,313.1 597.5,316.0C598.0,319.6 596.2,325.7 597.2,329.6C598.1,333.4 601.1,336.2 603.2,339.5C605.5,343.1 608.6,347.2 611.0,351.3C613.5,355.6 616.2,360.5 618.0,365.1C619.8,369.6 621.0,374.3 621.9,379.0C622.9,383.9 623.6,389.4 623.9,394.7C624.2,399.9 624.1,405.2 623.9,410.5C623.7,415.8 623.4,421.0 622.9,426.3C622.4,431.6 621.5,436.8 620.9,442.1C620.2,447.7 620.3,454.2 618.9,460.0C616.1,472.0 607.5,500.7 604.0,514.0C601.8,522.6 599.3,533.3 598.0,540.0C597.1,544.6 596.1,549.3 596.0,554.0C595.8,559.7 596.7,567.3 597.0,574.0C597.3,580.7 596.1,587.6 598.0,594.0C600.1,601.2 608.4,610.7 609.9,617.0C611.1,621.9 608.0,626.9 607.0,631.8C606.0,636.7 605.2,641.7 604.0,646.6C602.8,651.8 601.5,657.9 599.5,662.8C597.6,667.5 595.1,672.0 592.1,676.0C589.2,679.9 585.5,684.0 581.8,686.5C578.3,688.9 573.7,690.5 570.0,691.0C566.5,691.5 562.8,690.7 559.6,689.5C556.4,688.3 553.2,686.1 550.7,683.6C548.2,681.1 546.0,678.0 544.8,674.7C543.3,670.8 542.5,665.0 542.0,660.0C541.5,655.0 541.3,649.7 541.5,645.0C541.7,640.6 542.2,635.8 543.0,632.0C543.7,628.6 543.3,624.2 546.0,622.0C549.7,619.0 561.5,618.7 565.0,614.0C568.5,609.3 566.5,600.7 567.0,594.0C567.6,585.7 568.1,570.6 568.5,564.0C568.7,560.7 568.8,557.2 569.5,554.1C570.1,551.1 571.3,548.3 572.5,545.5C573.8,542.6 575.5,539.6 577.0,536.9C578.5,534.2 579.9,531.6 581.5,529.0C583.3,526.2 586.9,523.6 587.8,520.0C588.8,516.2 587.4,510.6 587.2,506.3C587.0,502.2 586.8,498.1 586.6,494.0C586.4,489.9 586.0,485.8 586.0,481.7C586.0,477.6 586.4,473.4 586.6,469.3C586.8,465.2 587.2,461.1 587.2,457.0C587.2,452.9 586.9,448.8 586.6,444.7C586.3,440.6 586.4,436.1 585.3,432.3C584.2,428.6 582.5,424.4 580.0,422.0C577.5,419.6 573.1,419.8 570.0,418.0C566.7,416.0 562.7,413.0 560.0,410.0C557.4,407.1 554.7,403.7 554.0,400.0C553.3,396.3 556.3,392.0 556.0,388.0C555.7,383.7 554.0,377.3 552.0,374.0C550.3,371.1 546.7,368.3 544.0,368.0C541.3,367.7 537.5,373.0 536.0,372.0C534.5,371.0 535.4,365.3 535.0,362.0C534.6,358.7 533.7,355.4 533.6,352.0C533.4,343.7 533.3,318.7 534.0,312.0C534.1,310.7 537.6,313.3 538.0,312.0C538.8,309.7 538.7,302.3 539.0,298.0C539.3,294.0 540.2,290.0 540.0,286.0C539.8,282.0 538.7,278.0 538.0,274.0C537.3,270.0 536.8,266.0 536.0,262.0C535.2,258.0 534.0,254.0 533.0,250.0C532.0,246.0 530.2,242.0 530.0,238.0Z" fill="#8b008b" stroke="#8b008b" stroke-width="0.6"/>
<path d="M536.0,238.0C536.3,236.1 538.3,234.7 540.0,234.0C542.3,233.0 546.7,233.0 550.0,232.0C553.3,231.0 557.0,229.0 560.0,228.0C562.6,227.1 565.7,227.0 568.0,226.0C570.2,225.1 572.0,222.3 574.0,222.0C576.0,221.7 578.0,223.4 580.0,224.0C582.3,224.7 585.7,224.5 588.0,226.0C590.7,227.7 593.5,231.2 596.0,234.0C598.7,237.0 601.7,240.7 604.0,244.0C606.2,247.2 609.7,251.0 610.0,254.0C610.3,257.0 607.6,259.5 606.0,262.0C604.3,264.7 601.5,267.0 600.0,270.0C598.3,273.3 597.3,278.0 596.0,282.0C594.7,286.0 591.7,290.3 592.0,294.0C592.3,297.7 596.0,301.0 598.0,304.0C599.8,306.8 603.4,308.7 604.0,312.0C604.8,316.7 603.0,325.3 603.0,332.0C603.0,338.7 603.2,345.4 604.0,352.0C604.8,358.7 606.7,365.3 608.0,372.0C609.3,378.7 611.3,386.0 612.0,392.0C612.6,397.3 612.3,402.7 612.0,408.0C611.7,413.3 611.0,418.7 610.0,424.0C609.0,429.3 607.3,436.7 606.0,440.0C605.3,441.8 603.3,444.7 602.0,444.0C600.7,443.3 598.8,438.9 598.0,436.0C596.8,432.0 595.7,425.3 595.0,420.0C594.3,414.7 594.2,409.3 594.0,404.0C593.8,398.7 594.7,393.3 594.0,388.0C593.3,382.7 591.7,376.3 590.0,372.0C588.6,368.4 586.3,363.3 584.0,362.0C581.7,360.7 578.0,362.3 576.0,364.0C574.0,365.7 573.2,369.3 572.0,372.0C570.7,375.0 569.3,379.7 568.0,382.0C567.1,383.6 565.6,385.0 564.0,386.0C562.3,387.0 559.7,389.0 558.0,388.0C556.3,387.0 555.7,382.5 554.0,380.0C552.0,377.0 548.7,372.7 546.0,370.0C543.6,367.6 539.8,366.8 538.0,364.0C536.1,361.0 534.8,356.2 534.6,352.0C534.1,343.3 533.9,321.0 535.0,312.0C535.6,307.0 539.8,302.3 541.0,298.0C542.0,294.1 542.0,290.0 542.0,286.0C542.0,282.0 541.5,278.0 541.0,274.0C540.5,270.0 539.7,266.0 539.0,262.0C538.3,258.0 537.5,254.0 537.0,250.0C536.5,246.0 535.5,240.7 536.0,238.0Z" fill="#8b0000" stroke="#8b0000" stroke-width="0.6"/>
<path d="M540.0,254.0C540.2,250.6 540.3,246.3 542.0,244.0C543.7,241.7 547.3,241.2 550.0,240.0C553.0,238.7 557.7,236.3 560.0,236.0C561.5,235.8 563.8,236.5 564.0,238.0C564.3,240.3 562.0,245.9 562.0,250.0C562.0,254.3 562.7,260.7 564.0,264.0C565.1,266.6 568.0,270.0 570.0,270.0C572.0,270.0 574.7,266.5 576.0,264.0C577.3,261.3 576.7,257.0 578.0,254.0C579.3,251.0 581.3,247.0 584.0,246.0C586.7,245.0 591.3,246.7 594.0,248.0C596.5,249.3 599.7,251.3 600.0,254.0C600.3,256.7 597.3,260.7 596.0,264.0C594.7,267.3 593.2,270.6 592.0,274.0C590.7,277.7 588.3,282.0 588.0,286.0C587.7,290.0 589.1,294.0 590.0,298.0C591.0,302.3 593.0,307.3 594.0,312.0C595.0,316.6 596.3,321.7 596.0,326.0C595.7,330.2 594.0,334.3 592.0,338.0C590.0,341.7 586.7,344.7 584.0,348.0C581.3,351.3 578.0,354.3 576.0,358.0C574.0,361.7 573.7,366.3 572.0,370.0C570.4,373.5 568.0,377.7 566.0,380.0C564.4,381.8 561.7,384.3 560.0,384.0C558.3,383.7 557.4,379.9 556.0,378.0C554.0,375.3 550.7,370.7 548.0,368.0C545.6,365.6 542.0,364.7 540.0,362.0C538.0,359.3 536.5,355.6 536.0,352.0C535.3,347.0 535.6,338.7 535.6,332.0C535.6,325.3 534.9,317.0 536.0,312.0C536.8,308.2 540.7,305.7 542.0,302.0C543.3,298.3 543.8,294.0 544.0,290.0C544.2,286.0 543.5,282.0 543.0,278.0C542.5,274.0 541.5,270.0 541.0,266.0C540.5,262.0 539.8,257.7 540.0,254.0Z" fill="#cd0000" stroke="#cd0000" stroke-width="0.6"/>
<path d="M543.7,286.6C545.1,284.1 549.1,284.3 552.0,284.0C555.0,283.7 559.7,284.0 562.0,285.0C564.0,285.8 565.2,288.0 566.0,290.0C567.0,292.5 568.0,296.6 568.0,300.0C568.0,303.7 566.0,308.3 566.0,312.0C566.0,315.4 567.5,319.0 568.0,322.0C568.4,324.7 569.2,327.3 569.0,330.0C568.8,332.7 568.1,335.5 567.0,338.0C565.8,340.7 563.8,343.7 562.0,346.0C560.3,348.2 558.0,351.0 556.0,352.0C554.2,352.9 551.6,353.1 550.0,352.0C548.3,350.8 547.0,347.5 546.0,345.0C544.9,342.2 543.9,338.4 543.5,335.0C543.0,330.8 543.1,325.0 543.0,320.0C542.9,314.2 542.9,305.6 543.0,300.0C543.1,295.5 542.2,289.3 543.7,286.6Z" fill="#ee4000" stroke="#ee4000" stroke-width="0.6"/>
<path d="M575.0,271.0C575.9,269.5 578.5,268.7 580.0,269.0C581.5,269.3 583.5,271.2 584.0,273.0C584.5,275.0 584.0,279.2 583.0,281.0C582.1,282.7 579.5,284.3 578.0,284.0C576.5,283.7 574.5,281.1 574.0,279.0C573.5,276.8 574.0,272.7 575.0,271.0Z" fill="#ee4000" stroke="#ee4000" stroke-width="0.6"/>
<path d="M550.7,300.0C550.7,299.6 551.6,298.7 552.0,298.7C552.4,298.7 553.3,299.6 553.3,300.0C553.3,300.4 552.4,301.3 552.0,301.3C551.6,301.3 550.7,300.4 550.7,300.0Z" fill="#ff7f00" stroke="#ff7f00" stroke-width="0.6"/>
<path d="M551.9,312.0C551.9,311.5 553.0,310.4 553.5,310.4C554.0,310.4 555.1,311.5 555.1,312.0C555.1,312.5 554.0,313.6 553.5,313.6C553.0,313.6 551.9,312.5 551.9,312.0Z" fill="#ff7f00" stroke="#ff7f00" stroke-width="0.6"/>
<path d="M554.8,322.0C554.8,321.6 555.6,320.8 556.0,320.8C556.4,320.8 557.2,321.6 557.2,322.0C557.2,322.4 556.4,323.2 556.0,323.2C555.6,323.2 554.8,322.4 554.8,322.0Z" fill="#ff7f00" stroke="#ff7f00" stroke-width="0.6"/>
<path d="M558.5,334.0C558.5,333.5 559.5,332.5 560.0,332.5C560.5,332.5 561.5,333.5 561.5,334.0C561.5,334.5 560.5,335.5 560.0,335.5C559.5,335.5 558.5,334.5 558.5,334.0Z" fill="#ff7f00" stroke="#ff7f00" stroke-width="0.6"/>
<path d="M550.0,330.0C550.0,329.7 550.7,329.0 551.0,329.0C551.3,329.0 552.0,329.7 552.0,330.0C552.0,330.3 551.3,331.0 551.0,331.0C550.7,331.0 550.0,330.3 550.0,330.0Z" fill="#ff7f00" stroke="#ff7f00" stroke-width="0.6"/>
<path d="M579.8,275.0C579.8,274.6 580.6,273.8 581.0,273.8C581.4,273.8 582.2,274.6 582.2,275.0C582.2,275.4 581.4,276.2 581.0,276.2C580.6,276.2 579.8,275.4 579.8,275.0Z" fill="#ff7f00" stroke="#ff7f00" stroke-width="0.6"/>
<path d="M557.0,306.0C557.0,305.7 557.7,305.0 558.0,305.0C558.3,305.0 559.0,305.7 559.0,306.0C559.0,306.3 558.3,307.0 558.0,307.0C557.7,307.0 557.0,306.3 557.0,306.0Z" fill="#ff7f00" stroke="#ff7f00" stroke-width="0.6"/>
<path d="M548.1,316.0C548.1,315.7 548.7,315.1 549.0,315.1C549.3,315.1 549.9,315.7 549.9,316.0C549.9,316.3 549.3,316.9 549.0,316.9C548.7,316.9 548.1,316.3 548.1,316.0Z" fill="#ff7f00" stroke="#ff7f00" stroke-width="0.6"/>
<path d="M562.0,343.0C562.0,342.7 562.7,342.0 563.0,342.0C563.3,342.0 564.0,342.7 564.0,343.0C564.0,343.3 563.3,344.0 563.0,344.0C562.7,344.0 562.0,343.3 562.0,343.0Z" fill="#ff7f00" stroke="#ff7f00" stroke-width="0.6"/>
<path d="M362.5,265.0C365.8,262.5 373.9,260.4 380.0,260.0C386.2,259.6 394.2,261.7 400.0,262.5C405.0,263.2 409.9,264.6 415.0,265.0C420.4,265.4 426.8,263.8 432.5,265.0C438.3,266.2 445.4,269.2 450.0,272.5C454.3,275.6 456.7,282.9 460.0,285.0C462.8,286.8 466.9,283.8 470.0,285.0C473.3,286.2 477.5,289.2 480.0,292.5C482.5,295.8 485.8,302.1 485.0,305.0C484.2,307.9 478.3,308.3 475.0,310.0C471.7,311.7 468.2,313.1 465.0,315.0C460.8,317.5 455.5,322.6 450.0,325.0C444.2,327.5 436.2,329.4 430.0,330.0C424.2,330.6 417.9,330.0 412.5,328.8C407.2,327.5 401.5,325.2 397.5,322.5C393.8,320.0 391.0,316.2 388.8,312.5C386.5,308.8 386.0,303.3 383.8,300.0C381.6,296.8 378.0,294.9 375.0,292.5C371.9,290.0 367.5,287.9 365.0,285.0C362.6,282.2 360.4,278.3 360.0,275.0C359.6,271.7 359.8,267.1 362.5,265.0Z" fill="#00b2ee" stroke="#00b2ee" stroke-width="0.6"/>
<path d="M367.5,267.5C370.0,265.8 375.7,263.9 380.0,263.8C385.0,263.5 392.1,265.2 397.5,266.2C402.6,267.2 407.4,269.4 412.5,270.0C417.9,270.6 424.6,268.8 430.0,270.0C435.4,271.2 440.8,274.2 445.0,277.5C449.2,280.8 452.9,286.2 455.0,290.0C456.7,293.0 455.0,299.2 457.5,300.0C460.0,300.8 467.1,295.0 470.0,295.0C472.4,295.0 475.8,297.9 475.0,300.0C474.2,302.1 468.3,305.4 465.0,307.5C461.8,309.5 458.3,310.7 455.0,312.5C451.2,314.6 446.9,318.0 442.5,320.0C437.9,322.1 432.5,324.4 427.5,325.0C422.5,325.6 417.1,325.0 412.5,323.8C408.0,322.5 403.3,320.2 400.0,317.5C396.8,314.9 394.4,311.2 392.5,307.5C390.6,303.8 390.8,298.3 388.8,295.0C386.7,291.7 383.1,289.8 380.0,287.5C376.9,285.2 372.5,283.5 370.0,281.2C367.8,279.2 365.4,276.0 365.0,273.8C364.6,271.5 365.6,268.7 367.5,267.5Z" fill="#00eeee" stroke="#00eeee" stroke-width="0.6"/>
<path d="M370.0,270.0C371.2,268.3 376.6,267.5 380.0,267.5C384.2,267.5 390.4,268.8 395.0,270.0C399.3,271.2 403.8,274.6 407.5,275.0C410.9,275.4 414.2,272.5 417.5,272.5C420.8,272.5 424.2,273.9 427.5,275.0C431.2,276.2 436.7,277.9 440.0,280.0C443.0,281.9 445.7,284.6 447.5,287.5C449.3,290.4 451.4,294.2 451.0,297.5C450.6,300.8 447.6,304.6 445.0,307.5C442.3,310.4 438.3,312.9 435.0,315.0C431.8,317.0 428.7,319.6 425.0,320.0C421.2,320.4 416.2,319.2 412.5,317.5C408.8,315.8 405.2,313.1 402.5,310.0C399.6,306.7 396.7,301.2 395.0,297.5C393.6,294.4 394.6,290.0 392.5,287.5C390.4,285.0 385.8,284.2 382.5,282.5C379.2,280.8 374.6,279.6 372.5,277.5C370.6,275.6 368.8,271.7 370.0,270.0Z" fill="#8968cd" stroke="#8968cd" stroke-width="0.6"/>
<path d="M400.0,277.5C402.3,275.4 406.7,275.6 410.0,275.0C413.3,274.4 416.7,273.5 420.0,273.8C423.3,274.0 426.9,274.9 430.0,276.2C433.3,277.7 437.3,280.2 440.0,282.5C442.5,284.6 445.0,287.5 446.2,290.0C447.4,292.3 448.1,295.0 447.5,297.5C446.9,300.2 444.9,303.9 442.5,306.2C440.0,308.8 435.8,310.8 432.5,312.5C429.3,314.1 425.8,316.0 422.5,316.2C419.2,316.5 415.6,315.2 412.5,313.8C409.4,312.3 406.0,310.2 403.8,307.5C401.5,304.8 400.0,300.8 398.8,297.5C397.5,294.3 396.0,290.8 396.2,287.5C396.5,284.2 397.7,279.6 400.0,277.5Z" fill="#912cee" stroke="#912cee" stroke-width="0.6"/>
<path d="M403.8,282.5C405.6,280.8 409.4,278.5 412.5,277.5C415.6,276.5 419.2,275.8 422.5,276.2C425.8,276.7 429.4,278.3 432.5,280.0C435.6,281.7 439.2,283.8 441.2,286.2C443.2,288.7 444.7,292.1 444.5,295.0C444.3,297.9 442.2,301.3 440.0,303.8C437.8,306.2 434.4,308.5 431.2,310.0C428.1,311.5 424.4,312.5 421.2,312.5C418.2,312.5 415.2,311.4 412.5,310.0C409.8,308.5 406.9,306.2 405.0,303.8C403.1,301.2 401.9,297.7 401.2,295.0C400.7,292.6 400.8,289.6 401.2,287.5C401.6,285.7 402.4,283.7 403.8,282.5Z" fill="#8b008b" stroke="#8b008b" stroke-width="0.6"/>
<path d="M407.5,287.5C409.0,285.8 412.2,283.5 415.0,282.5C417.9,281.5 421.9,280.8 425.0,281.2C428.1,281.7 431.2,283.1 433.8,285.0C436.2,286.9 439.2,290.0 440.0,292.5C440.8,294.9 440.1,297.9 438.8,300.0C437.3,302.3 434.2,304.8 431.2,306.2C428.3,307.7 424.4,308.8 421.2,308.8C418.2,308.8 414.8,307.9 412.5,306.2C410.2,304.6 408.5,301.0 407.5,298.8C406.6,296.8 406.2,294.4 406.2,292.5C406.2,290.8 406.4,288.8 407.5,287.5Z" fill="#8b0000" stroke="#8b0000" stroke-width="0.6"/>
<path d="M420.0,292.5C421.7,290.6 425.2,288.8 427.5,288.8C429.8,288.8 432.5,290.8 433.8,292.5C435.0,294.2 435.8,296.9 435.0,298.8C434.2,300.6 431.0,302.7 428.8,303.8C426.5,304.8 423.1,305.6 421.2,305.0C419.4,304.4 417.7,302.1 417.5,300.0C417.3,297.9 418.3,294.4 420.0,292.5Z" fill="#cd0000" stroke="#cd0000" stroke-width="0.6"/>
<path d="M578.0,532.0C576.3,532.8 574.8,535.7 574.0,538.0C573.0,541.0 572.5,546.0 572.0,550.0C571.5,554.0 571.3,558.0 571.0,562.0C570.7,566.0 571.2,570.7 570.0,574.0C568.9,577.1 565.5,579.0 564.0,582.0C562.5,585.0 561.5,588.4 561.0,591.8C560.5,595.4 561.2,599.8 561.0,603.7C560.8,607.7 560.8,612.0 559.6,615.5C558.4,618.9 555.9,621.9 553.7,624.4C551.6,626.7 548.0,627.8 546.3,630.3C544.6,632.8 543.7,636.1 543.3,639.2C542.8,643.2 542.8,649.1 543.3,654.0C543.8,658.9 544.6,665.1 546.3,668.8C547.8,671.9 551.0,674.0 553.7,676.0C556.4,677.9 559.5,679.8 562.5,680.6C565.4,681.3 568.6,681.5 571.4,680.6C574.4,679.6 577.6,677.0 580.3,674.7C583.3,672.2 586.6,669.1 589.2,665.8C591.9,662.3 594.9,658.3 596.6,654.0C598.3,649.6 598.5,644.1 599.5,639.2C600.5,634.3 601.2,628.6 602.5,624.4C603.6,620.8 606.0,617.2 607.0,614.0C607.9,611.1 608.9,607.2 608.4,605.0C607.9,603.0 606.0,600.9 604.0,600.7C601.8,600.5 597.5,603.0 595.0,603.7C593.1,604.3 589.9,606.5 589.2,605.0C588.5,603.5 590.7,598.2 590.7,594.8C590.7,591.3 590.0,586.8 589.2,584.0C588.6,581.8 586.2,578.3 586.0,578.0C585.8,577.7 586.7,582.7 588.0,582.0C589.3,581.3 593.3,576.3 594.0,574.0C594.6,572.0 593.5,569.5 592.0,568.0C590.3,566.3 586.0,565.7 584.0,564.0C582.2,562.5 580.0,559.7 580.0,558.0C580.0,556.3 582.7,555.3 584.0,554.0C585.7,552.3 589.2,550.3 590.0,548.0C590.8,545.7 590.0,542.5 589.0,540.0C588.0,537.5 585.8,534.3 584.0,533.0C582.4,531.8 579.7,531.2 578.0,532.0Z" fill="#8b0000" stroke="#8b0000" stroke-width="0.6"/>
<path d="M571.0,562.0C572.3,560.7 575.1,562.5 576.0,564.0C577.0,565.7 577.0,569.7 577.0,572.0C577.0,574.0 574.6,576.5 576.0,578.0C577.5,579.7 584.2,579.7 586.2,582.0C588.2,584.3 587.7,588.5 587.7,591.8C587.7,595.4 586.0,601.2 586.2,603.7C586.3,605.1 587.6,606.5 589.0,607.0C590.5,607.5 593.0,607.0 595.0,606.6C597.5,606.1 602.3,603.5 604.0,603.7C605.5,603.9 606.0,606.6 605.4,608.0C604.7,609.5 601.3,610.9 600.0,613.0C598.6,615.3 597.9,619.0 597.0,622.0C596.1,625.2 595.3,628.7 594.5,632.0C593.7,635.3 593.1,639.1 592.0,642.0C591.0,644.7 589.7,647.5 588.0,649.5C586.3,651.4 583.8,654.2 581.8,654.0C579.8,653.8 577.4,647.8 575.9,648.5C574.4,649.2 574.5,655.3 572.9,658.4C571.2,661.8 568.0,666.1 565.5,668.8C563.4,671.1 560.5,674.7 558.0,674.7C555.5,674.7 552.4,671.4 550.7,668.8C548.8,665.8 546.9,661.2 546.3,657.0C545.6,652.1 545.8,643.7 546.3,639.2C546.6,636.1 547.5,632.0 549.2,630.3C550.9,628.6 554.9,630.6 556.6,628.8C558.6,626.8 560.0,621.3 561.0,618.0C561.9,615.1 562.2,612.0 562.5,609.0C562.9,604.6 562.9,596.6 563.3,591.8C563.6,587.8 564.2,583.3 565.0,580.0C565.7,577.2 567.1,574.7 568.0,572.0C569.0,569.0 569.7,563.3 571.0,562.0Z" fill="#cd0000" stroke="#cd0000" stroke-width="0.6"/>
<path d="M557.0,607.0C558.6,605.6 563.3,603.3 565.5,603.7C567.7,604.1 568.9,607.4 570.0,609.6C571.2,612.1 572.2,615.5 572.9,618.5C573.6,621.7 574.1,625.3 574.4,628.8C574.6,632.2 575.1,636.5 574.4,639.2C573.8,641.5 571.7,644.5 570.0,645.0C568.3,645.5 565.3,643.8 564.0,642.0C562.5,639.8 562.0,634.1 561.0,631.8C560.4,630.3 558.7,629.5 558.0,628.0C557.1,626.0 555.8,622.7 555.5,620.0C555.2,617.3 555.8,614.2 556.0,612.0C556.2,610.3 555.7,608.1 557.0,607.0Z" fill="#8b008b" stroke="#8b008b" stroke-width="0.6"/>
<path d="M562.0,611.0C562.5,609.6 564.8,608.2 566.0,609.0C567.2,609.8 568.8,613.5 569.5,616.0C570.3,619.2 570.9,624.3 571.0,628.0C571.1,631.3 570.8,635.9 570.0,638.0C569.5,639.3 567.6,641.3 566.5,640.5C565.4,639.7 564.2,635.6 563.5,633.0C562.7,629.9 561.8,625.7 561.5,622.0C561.3,618.3 561.2,613.2 562.0,611.0Z" fill="#912cee" stroke="#912cee" stroke-width="0.6"/>
<path d="M596.0,507.0C596.2,506.0 597.8,504.7 598.5,505.0C599.2,505.3 599.9,507.6 600.0,509.0C600.1,510.5 599.5,513.3 599.0,514.0C598.6,514.6 597.3,513.7 597.0,513.0C596.5,511.8 595.8,508.3 596.0,507.0Z" fill="#8b0000" stroke="#8b0000" stroke-width="0.6"/>
<path d="M478.0,424.0C479.3,430.7 484.0,446.7 486.0,452.0C486.7,453.8 488.7,457.3 490.0,456.0C491.7,454.3 493.7,446.5 496.0,442.0C498.3,437.3 501.7,432.3 504.0,428.0C506.1,424.1 509.1,420.4 510.0,416.0C511.2,410.0 511.0,398.3 511.0,392.0C511.0,387.3 511.2,381.7 510.0,378.0C509.0,374.8 507.1,371.1 504.0,370.0C500.3,368.7 491.7,368.7 488.0,370.0C484.9,371.1 483.0,374.8 482.0,378.0C480.7,382.3 480.7,390.3 480.0,396.0C479.4,401.3 478.3,407.3 478.0,412.0C477.7,416.0 477.2,420.1 478.0,424.0Z" fill="#104e8b" stroke="#104e8b" stroke-width="0.6"/>
<path d="M490.0,374.0C492.3,371.7 497.3,371.3 500.0,372.0C502.7,372.7 505.1,375.3 506.0,378.0C507.2,381.3 507.3,387.3 507.0,392.0C506.7,396.7 505.2,401.4 504.0,406.0C502.8,410.7 501.7,415.7 500.0,420.0C498.4,424.2 495.8,430.3 494.0,432.0C492.7,433.2 489.8,431.6 489.0,430.0C487.7,427.3 486.6,420.7 486.0,416.0C485.3,411.0 485.0,405.0 485.0,400.0C485.0,395.3 485.2,390.3 486.0,386.0C486.8,381.9 487.7,376.3 490.0,374.0Z" fill="#008b00" stroke="#008b00" stroke-width="0.6"/>
<path d="M440.0,318.0C441.1,315.4 443.7,312.3 446.0,312.0C448.3,311.7 451.9,313.9 454.0,316.0C456.3,318.3 459.7,322.1 460.0,326.0C460.3,330.0 457.3,335.3 456.0,340.0C454.7,345.0 452.5,350.5 452.0,356.0C451.5,361.7 453.5,370.3 453.0,374.0C452.7,375.9 450.1,379.5 449.0,378.0C447.5,376.0 445.5,367.3 444.0,362.0C442.5,356.7 441.0,351.0 440.0,346.0C439.1,341.4 438.0,336.7 438.0,332.0C438.0,327.3 438.7,321.3 440.0,318.0Z" fill="#104e8b" stroke="#104e8b" stroke-width="0.6"/>
<path d="M464.4,318.1C462.3,319.1 460.4,322.6 458.8,325.2C456.9,328.2 454.5,332.5 453.1,336.4C451.7,340.4 450.6,344.8 450.3,349.1C449.9,353.6 450.5,358.9 451.0,363.1C451.4,366.9 451.8,372.0 453.1,374.4C454.1,376.3 456.7,377.0 458.8,377.2C461.6,377.4 466.7,376.5 470.0,375.8C472.9,375.2 476.6,375.3 478.5,373.0C480.6,370.4 481.7,364.6 482.7,360.3C483.8,355.9 484.7,350.3 484.8,346.3C484.9,343.0 484.4,339.6 483.4,336.4C482.3,333.1 480.5,329.4 478.5,326.6C476.6,323.9 473.8,320.9 471.4,319.5C469.4,318.3 466.5,317.2 464.4,318.1Z" fill="#008b00" stroke="#008b00" stroke-width="0.6"/>
<path d="M465.8,328.0C463.2,329.2 461.7,334.3 460.2,337.8C458.7,341.3 457.0,345.2 456.7,349.1C456.3,353.3 457.2,359.4 458.0,363.1C458.7,366.1 459.6,370.1 461.6,371.6C463.6,373.1 467.4,372.8 470.0,372.3C472.6,371.8 475.5,370.9 477.0,368.8C478.8,366.3 479.8,361.2 480.6,357.5C481.4,353.8 482.1,349.8 482.0,346.3C481.9,342.9 481.0,339.0 479.9,336.4C479.0,334.2 477.6,332.0 475.6,330.8C473.2,329.4 468.4,326.8 465.8,328.0Z" fill="#00cd00" stroke="#00cd00" stroke-width="0.6"/>
<path d="M465.8,339.2C463.9,340.7 462.4,343.7 461.6,346.3C460.8,348.9 460.6,351.9 460.9,354.7C461.2,357.7 462.4,362.1 463.7,364.5C464.7,366.4 467.1,368.8 468.6,368.8C470.1,368.8 471.7,366.2 472.8,364.5C474.2,362.4 475.9,359.0 477.0,356.1C478.2,353.1 479.6,349.1 479.9,346.3C480.1,343.9 479.7,340.7 478.5,339.2C477.3,337.7 474.8,337.1 472.8,337.1C470.7,337.1 467.7,337.7 465.8,339.2Z" fill="#7fff00" stroke="#7fff00" stroke-width="0.6"/>
<path d="M486.0,330.0C487.3,325.4 491.0,321.3 494.0,318.0C496.9,314.8 500.3,312.0 504.0,310.0C507.7,308.0 512.7,306.0 516.0,306.0C519.0,306.0 522.8,307.3 524.0,310.0C525.3,313.0 524.7,319.7 524.0,324.0C523.4,328.2 522.0,332.3 520.0,336.0C518.0,339.7 514.5,342.5 512.0,346.0C509.3,349.7 506.7,355.0 504.0,358.0C501.8,360.5 498.7,363.7 496.0,364.0C493.3,364.3 489.4,362.6 488.0,360.0C486.3,357.0 486.3,350.7 486.0,346.0C485.7,341.0 484.7,334.7 486.0,330.0Z" fill="#104e8b" stroke="#104e8b" stroke-width="0.6"/>
<path d="M502.4,315.3C504.5,313.2 508.0,313.2 510.8,312.5C513.6,311.8 517.6,310.2 519.2,311.1C520.8,312.0 520.6,315.7 520.6,318.1C520.6,321.2 520.6,326.3 519.2,329.4C517.8,332.4 514.2,333.8 512.2,336.4C510.1,339.2 508.5,343.5 506.6,346.3C504.9,348.8 502.9,351.2 501.0,353.3C499.2,355.3 496.8,358.4 495.3,358.9C493.9,359.3 492.1,357.6 491.8,356.1C491.3,354.0 492.0,349.5 492.5,346.3C493.1,342.8 494.4,338.5 495.3,335.0C496.2,331.7 496.9,328.4 498.1,325.2C499.3,321.9 500.3,317.4 502.4,315.3Z" fill="#008b00" stroke="#008b00" stroke-width="0.6"/>
<path d="M499.5,330.8C500.4,330.0 502.6,330.4 503.0,331.5C503.5,332.9 503.1,337.4 502.4,339.2C501.8,340.6 499.6,342.5 498.8,342.0C498.1,341.5 497.8,338.3 497.9,336.4C498.0,334.5 498.6,331.6 499.5,330.8Z" fill="#00cd00" stroke="#00cd00" stroke-width="0.6"/>
<path d="M535.4,426.0C536.8,425.4 537.6,422.3 539.0,423.0C540.4,423.7 542.1,427.9 544.0,430.0C546.5,432.8 551.0,436.1 553.9,439.7C556.8,443.4 559.7,448.3 561.3,452.0C562.7,455.1 563.5,458.7 563.7,462.0C563.9,465.3 562.9,468.5 562.5,471.8C562.1,475.1 561.6,478.4 561.3,481.7C561.0,485.4 560.9,489.9 560.7,494.0C560.5,498.1 560.3,502.2 560.0,506.3C559.7,510.6 559.1,515.4 558.8,520.0C558.5,524.6 562.3,532.2 558.0,534.0C551.5,536.7 532.0,536.0 520.0,536.0C508.6,536.0 491.5,536.3 486.0,534.0C482.3,532.4 485.9,525.9 487.0,522.0C488.2,518.0 490.8,513.3 493.0,510.0C494.9,507.0 497.7,504.7 500.0,502.0C502.3,499.3 504.9,496.9 507.0,494.0C509.2,491.0 511.6,487.3 513.2,484.0C514.8,480.9 515.9,476.8 516.9,474.3C517.6,472.6 518.6,471.0 519.3,469.3C520.5,466.4 522.8,461.1 524.3,457.0C525.7,453.0 527.6,448.5 528.0,444.7C528.4,441.1 526.4,436.9 526.7,434.0C527.0,431.4 528.5,428.3 530.0,427.0C531.3,425.8 533.9,426.7 535.4,426.0Z" fill="#104e8b" stroke="#104e8b" stroke-width="0.6"/>
<path d="M535.4,431.0C535.9,430.8 536.6,432.8 537.2,433.6C538.6,435.5 541.9,439.2 544.0,442.2C546.2,445.3 548.2,449.1 550.2,452.0C552.1,454.6 554.9,457.0 556.3,459.5C557.6,461.8 558.4,464.3 558.8,466.9C559.2,469.6 558.9,472.6 558.8,475.5C558.7,478.3 558.2,481.2 558.2,484.0C558.2,487.1 558.9,490.7 558.8,494.0C558.7,497.3 558.0,500.6 557.6,503.9C557.2,507.2 556.5,510.4 556.3,513.7C556.0,518.1 556.7,525.6 556.0,530.0C555.4,533.5 555.5,539.4 552.0,540.0C542.7,541.7 510.4,543.3 500.0,540.0C492.9,537.7 490.2,524.8 489.7,520.0C489.3,516.2 494.5,513.6 497.0,511.3C499.2,509.3 502.3,508.3 504.5,506.3C506.8,504.2 508.8,501.5 510.7,499.0C512.5,496.6 514.3,494.2 515.6,491.5C517.0,488.6 518.3,485.0 519.3,481.7C520.3,478.5 521.0,475.1 521.8,471.8C522.6,468.5 523.3,464.9 524.3,462.0C525.2,459.4 526.9,457.1 528.0,454.5C529.2,451.6 530.7,448.0 531.7,444.7C532.7,441.5 533.4,437.1 534.0,434.8C534.4,433.5 534.9,431.2 535.4,431.0Z" fill="#008b00" stroke="#008b00" stroke-width="0.6"/>
<path d="M541.5,466.3C543.1,466.3 544.9,468.2 546.5,469.3C548.8,470.8 553.1,473.1 555.0,475.5C556.8,477.9 557.4,481.0 557.6,484.0C557.9,487.1 556.8,490.7 556.5,494.0C556.2,497.3 556.1,500.6 556.0,503.9C555.9,507.2 555.8,510.4 555.7,513.7C555.5,518.1 559.9,527.7 555.0,530.0C548.4,533.0 522.4,533.7 516.0,532.0C512.1,531.0 516.4,523.0 516.9,520.0C517.3,517.8 518.5,515.8 519.3,513.7C520.3,511.0 521.8,507.2 523.0,503.9C524.2,500.6 525.5,497.3 526.7,494.0C527.9,490.7 529.4,487.1 530.4,484.0C531.3,481.2 531.9,477.9 532.9,475.5C533.8,473.3 535.2,470.8 536.6,469.3C537.9,467.9 539.9,466.3 541.5,466.3Z" fill="#00cd00" stroke="#00cd00" stroke-width="0.6"/>
<path d="M544.0,484.0C545.7,484.0 547.8,487.0 549.0,489.0C550.2,491.1 551.2,493.9 551.4,496.5C551.6,499.4 550.8,503.4 550.2,506.3C549.7,508.8 548.3,511.4 547.7,513.7C547.1,515.8 546.7,517.9 546.5,520.0C546.2,522.7 548.9,528.4 546.0,530.0C542.9,531.7 531.0,531.7 528.0,530.0C525.1,528.4 527.8,522.7 528.0,520.0C528.2,517.9 528.6,515.8 529.2,513.7C529.8,511.4 530.8,508.7 531.7,506.3C532.7,503.4 534.2,499.4 535.4,496.5C536.5,493.9 537.6,491.1 539.0,489.0C540.3,487.1 542.3,484.0 544.0,484.0Z" fill="#7fff00" stroke="#7fff00" stroke-width="0.6"/>
<path d="M541.0,504.0C541.5,504.0 542.3,508.8 542.8,511.3C543.3,514.0 543.8,517.2 544.0,520.0C544.2,522.7 544.7,526.7 544.0,528.0C543.4,529.2 540.6,529.2 540.0,528.0C539.4,526.7 540.3,522.7 540.3,520.0C540.2,517.2 539.6,514.0 539.7,511.3C539.8,508.8 540.5,504.0 541.0,504.0Z" fill="#ffffff" stroke="#ffffff" stroke-width="0.6"/>
<path d="M527.0,383.0C528.2,382.2 533.7,383.9 536.0,385.0C538.0,385.9 540.8,387.3 541.0,389.5C541.2,391.9 538.9,396.3 537.5,399.6C535.8,403.6 532.8,409.1 530.5,413.7C528.3,418.1 526.4,422.8 524.0,427.0C521.6,431.2 518.3,436.2 516.0,439.0C514.3,441.0 511.6,443.7 510.0,444.0C508.5,444.3 506.7,442.5 506.5,441.0C506.3,439.3 507.9,436.2 509.0,434.0C510.4,431.2 513.2,427.4 515.0,424.0C517.0,420.2 519.0,415.3 521.0,411.0C523.0,406.7 525.7,401.5 527.0,398.0C528.0,395.4 529.0,392.5 529.0,390.0C529.0,387.6 525.8,383.8 527.0,383.0Z" fill="#00eeee" stroke="#00eeee" stroke-width="0.6"/>
<path d="M470.0,478.0C471.8,474.7 480.8,470.1 485.0,468.0C488.1,466.5 494.2,464.2 495.0,465.5C495.8,466.8 492.4,472.7 490.0,475.5C487.5,478.4 482.7,480.9 480.0,483.0C477.9,484.6 475.7,488.8 474.0,488.0C472.3,487.2 468.3,481.1 470.0,478.0Z" fill="#00eeee" stroke="#00eeee" stroke-width="0.6"/>
<path d="M488.5,469.0C489.0,467.5 492.0,466.3 493.0,467.0C494.0,467.7 494.8,470.9 494.7,473.0C494.5,475.4 493.3,479.9 492.0,481.7C490.9,483.2 487.5,485.8 487.0,484.0C486.4,481.9 487.5,471.8 488.5,469.0Z" fill="#00eeee" stroke="#00eeee" stroke-width="0.6"/>
<path d="M514.0,488.0C513.8,488.9 515.7,494.4 516.5,497.4C517.3,500.3 518.4,503.1 519.0,506.0C519.6,508.9 520.2,511.8 520.2,514.7C520.2,518.2 519.1,522.9 519.0,527.0C518.8,532.8 519.6,544.5 519.0,549.2C518.7,551.6 516.7,555.4 515.2,555.4C513.8,555.4 511.8,551.3 510.3,549.2C508.7,546.9 507.2,543.8 505.4,541.8C503.6,539.8 501.0,537.7 499.2,536.9C497.7,536.2 495.5,535.8 494.3,536.9C492.9,538.2 491.9,542.2 491.0,545.0C489.9,548.2 489.1,552.4 488.0,556.0C486.9,559.5 484.6,563.5 484.4,566.5C484.2,569.1 486.2,571.4 486.9,573.9C487.8,577.1 490.1,581.8 490.0,586.0C489.9,590.7 489.3,598.0 486.0,602.0C482.7,606.0 475.9,609.3 470.0,610.0C464.0,610.7 456.0,605.7 450.0,606.0C444.3,606.3 438.3,609.3 434.0,612.0C430.0,614.5 427.9,619.4 424.0,622.0C420.0,624.7 411.3,626.0 410.0,628.0C408.7,630.0 413.2,634.0 416.0,634.0C419.7,634.0 426.8,630.3 432.0,628.0C437.3,625.7 443.0,622.3 448.0,620.0C452.6,617.9 457.2,615.6 462.0,614.0C467.0,612.3 473.0,611.3 478.0,610.0C482.7,608.7 487.4,607.6 492.0,606.0C496.7,604.3 502.0,602.3 506.0,600.0C509.7,597.8 511.8,592.6 516.0,592.0C520.8,591.3 529.2,596.3 535.0,596.0C540.7,595.7 547.3,591.4 551.0,590.0C553.1,589.2 556.5,588.9 557.2,587.4C557.9,585.9 556.0,583.3 555.3,581.3C554.5,579.0 553.2,576.4 552.2,573.9C551.1,571.0 549.3,567.4 548.5,564.0C547.7,560.3 547.3,555.8 547.3,551.7C547.3,547.6 548.1,543.4 548.5,539.3C548.9,535.2 549.4,531.1 549.8,527.0C550.2,522.9 550.4,518.8 551.0,514.7C551.6,510.6 553.1,506.5 553.5,502.3C553.9,497.9 554.4,491.7 553.5,488.0C552.7,484.9 549.6,482.8 548.0,480.0C546.0,476.4 543.4,468.1 541.5,466.3C540.1,465.0 537.9,467.9 536.6,469.3C535.2,470.8 533.8,473.3 532.9,475.5C531.9,477.9 531.3,481.2 530.4,484.0C529.4,487.1 528.1,491.3 526.7,494.0C525.5,496.2 523.5,500.3 522.0,500.0C520.5,499.7 519.3,494.0 518.0,492.0C517.0,490.4 514.2,487.1 514.0,488.0Z" fill="#00cd00" stroke="#00cd00" stroke-width="0.6"/>
<path d="M533.7,488.0C532.4,490.2 532.1,497.9 531.3,502.3C530.5,506.4 529.4,510.6 528.8,514.7C528.2,518.8 528.0,522.9 527.6,527.0C527.2,531.1 526.7,535.2 526.3,539.3C525.9,543.4 525.9,547.6 525.1,551.7C524.3,555.8 522.2,559.9 521.4,564.0C520.6,568.0 520.4,572.2 520.2,576.3C520.0,581.0 520.6,587.4 520.2,592.0C519.9,596.1 518.6,600.0 518.0,604.0C517.3,608.3 516.0,613.3 516.0,618.0C516.0,622.7 516.3,629.3 518.0,632.0C519.5,634.3 523.6,635.3 526.0,634.0C529.0,632.3 532.9,626.2 536.0,622.0C539.2,617.7 542.3,612.3 545.0,608.0C547.4,604.1 550.2,599.0 552.0,596.0C553.3,593.9 555.8,592.0 556.0,590.0C556.2,588.0 554.3,585.8 553.5,583.7C552.5,581.0 551.0,577.2 549.8,573.9C548.5,570.6 546.8,567.4 546.0,564.0C545.2,560.3 544.8,555.8 544.8,551.7C544.8,547.6 545.6,543.4 546.0,539.3C546.4,535.2 547.1,531.1 547.3,527.0C547.5,522.9 546.9,518.8 547.3,514.7C547.7,510.6 549.5,506.5 549.8,502.3C550.1,498.0 550.0,492.1 549.0,489.0C548.3,486.8 545.7,484.0 544.0,484.0C542.3,484.0 540.7,488.3 539.0,489.0C537.3,489.7 534.6,486.4 533.7,488.0Z" fill="#7fff00" stroke="#7fff00" stroke-width="0.6"/>
<path d="M541.1,509.7C540.3,511.5 538.6,517.1 537.4,520.8C536.2,524.5 534.9,528.2 533.7,531.9C532.5,535.6 531.0,539.3 530.0,543.0C529.0,546.7 528.2,550.6 527.6,554.1C527.0,557.4 526.8,560.7 526.3,564.0C525.7,567.7 524.3,572.1 523.9,576.3C523.5,580.6 524.2,585.7 523.9,590.0C523.6,594.0 522.4,598.0 522.0,602.0C521.5,606.7 520.7,613.7 521.0,618.0C521.3,621.5 522.5,627.3 524.0,628.0C525.5,628.7 528.3,624.3 530.0,622.0C532.0,619.3 534.0,615.3 536.0,612.0C538.0,608.7 540.0,605.3 542.0,602.0C544.0,598.7 546.5,594.0 548.0,592.0C548.7,591.0 550.9,591.2 551.0,590.0C551.1,588.6 549.2,585.9 548.5,583.7C547.7,581.0 547.0,577.1 546.0,573.9C545.0,570.6 543.2,567.3 542.4,564.0C541.6,560.8 540.9,557.4 541.1,554.1C541.3,550.6 543.0,546.7 543.6,543.0C544.2,539.3 544.8,535.6 544.8,531.9C544.8,528.2 544.0,524.5 543.6,520.8C543.2,517.1 542.8,511.5 542.4,509.7C542.3,509.3 541.3,509.3 541.1,509.7Z" fill="#ffffff" stroke="#ffffff" stroke-width="0.6"/>
<path d="M541.0,503.0C541.5,502.8 542.6,507.6 543.0,510.0C543.5,512.8 544.2,517.3 544.0,520.0C543.8,522.2 542.2,526.0 541.5,526.0C540.8,526.0 540.3,522.0 540.0,520.0C539.7,517.5 539.5,514.1 539.7,511.3C539.9,508.5 540.5,503.2 541.0,503.0Z" fill="#ffffff" stroke="#ffffff" stroke-width="0.6"/>
<path d="M410.0,560.0C411.5,557.6 414.3,554.3 416.0,554.0C417.7,553.7 420.0,556.1 420.0,558.0C420.0,560.7 417.6,566.1 416.0,570.0C414.3,574.0 412.0,578.0 410.0,582.0C408.0,586.0 406.0,591.0 404.0,594.0C402.4,596.4 399.3,600.0 398.0,600.0C396.7,600.0 395.5,596.1 396.0,594.0C396.7,591.0 400.3,586.0 402.0,582.0C403.6,578.1 404.7,573.7 406.0,570.0C407.2,566.6 408.3,562.7 410.0,560.0Z" fill="#1e90ff" stroke="#1e90ff" stroke-width="0.6"/>
</g>
<g fill="none" stroke="#111" stroke-width="0.9" stroke-linejoin="round" stroke-linecap="round" opacity="0.9">
<path d="M150.0,216.0L171.0,228.0L192.5,238.8L220.0,248.0L247.5,256.0L270.0,262.0L294.0,269.0L318.0,271.3L334.0,272.5L350.0,273.5L365.0,272.5"/>
<path d="M193.8,152.0L196.0,167.5L201.0,185.0L207.5,202.5L212.0,215.0L215.0,227.5L213.8,243.8"/>
<path d="M265.0,152.0L246.2,256.0"/>
<path d="M318.8,152.0L317.5,271.0"/>
<path d="M398.8,152.0L385.0,180.0L365.0,212.5L365.0,272.5"/>
<path d="M365.0,272.5L370.0,277.5L382.5,281.0L395.0,286.0L405.0,285.0L412.0,276.0L420.0,267.5L430.0,269.0L445.0,275.0L450.0,285.0L446.0,292.0"/>
<path d="M398.8,152.0L410.0,155.0L422.0,161.0L430.0,165.0L431.0,170.0L430.0,164.0L440.0,162.0L450.0,161.0L452.5,172.5L457.5,187.5L465.0,202.5L470.0,208.0L475.0,210.0L481.0,208.0L485.0,205.0L481.0,190.0L476.0,178.0L470.0,165.0L474.0,158.0L480.0,152.0"/>
<path d="M481.0,207.5L484.0,218.0L487.5,230.0L491.0,244.0L495.0,257.5L499.0,268.0L502.5,277.5L508.0,282.0L515.0,285.0L522.0,287.0L530.0,287.5L538.0,284.0L545.0,280.0"/>
<path d="M131.8,216.0L130.0,226.0L127.5,245.0L125.0,251.0"/>
<path d="M125.0,251.0L132.5,255.0L135.0,261.0L137.5,266.0L144.0,270.0L150.0,272.5L160.0,274.0L170.0,275.0L176.0,278.0L181.0,281.0"/>
<path d="M192.5,238.8L181.0,281.0"/>
<path d="M181.0,281.0L182.5,290.0L178.0,298.0L172.5,305.0L168.0,322.0L163.5,343.0L163.8,348.0"/>
<path d="M125.0,251.0L118.0,265.0L112.5,277.5L106.0,289.0L101.0,297.5L98.8,310.0"/>
<path d="M98.8,310.0L115.0,320.0L132.5,330.0L150.0,338.5L163.8,347.0L190.0,359.0L217.5,366.8"/>
<path d="M98.8,310.0L94.0,322.0L90.0,332.5L86.0,344.0L85.0,348.0L87.5,363.0L91.0,383.0L89.0,398.0L87.5,413.0L92.5,430.5L91.0,443.0L96.0,450.5L104.0,460.5L110.0,470.5L115.0,480.5L119.0,498.0L120.0,513.0L121.0,533.0L120.0,551.0"/>
<path d="M132.5,330.0L128.8,348.0L120.8,378.0L157.5,470.5"/>
<path d="M157.5,470.5L157.5,483.0L153.0,490.0L150.0,495.5L146.0,508.0"/>
<path d="M119.0,498.0L146.0,508.0L145.0,511.8L165.0,527.0L185.0,542.0L200.0,551.0L215.0,557.0"/>
<path d="M190.0,359.0L170.0,439.0L167.5,449.0L160.0,452.0L157.5,470.5"/>
<path d="M198.8,241.0L196.0,252.0L195.0,260.0L200.0,270.0L203.8,281.0L201.0,290.0L200.0,297.5L207.5,305.0L209.0,313.0L210.0,320.0L218.0,323.0L225.0,323.8"/>
<path d="M225.0,319.0L250.0,325.0L287.5,334.0"/>
<path d="M225.0,320.0L222.5,348.0L217.5,366.8L215.0,383.0"/>
<path d="M215.0,383.0L233.8,388.0L264.0,395.0L294.8,401.8"/>
<path d="M233.8,388.0L221.2,456.8L207.5,551.0L206.5,557.0"/>
<path d="M170.0,439.2L221.2,456.8L285.0,470.5L303.0,474.5"/>
<path d="M293.8,270.0L290.0,302.0L287.5,334.0L286.0,348.0L283.8,364.2L281.0,398.0"/>
<path d="M283.8,364.2L310.0,367.0L340.0,370.0L351.0,372.0L355.0,376.0"/>
<path d="M281.0,398.0L300.0,400.5L330.0,402.0"/>
<path d="M294.8,401.8L292.0,421.0L330.0,421.0L366.0,421.0"/>
<path d="M292.0,421.0L286.0,470.5L281.0,520.0L278.8,551.0L278.5,558.5"/>
<path d="M286.0,470.5L303.0,474.5L303.0,483.5L330.0,484.5L330.0,523.0"/>
<path d="M303.0,474.5L378.0,474.0"/>
<path d="M217.5,551.0L237.5,555.0L258.0,557.0L278.8,558.5"/>
<path d="M237.5,555.0L245.0,566.0L251.0,575.0L256.0,583.5L258.0,591.0L260.0,598.5L266.0,606.0L272.5,613.5L276.0,607.0L280.0,601.0L288.0,600.0L295.0,601.0L302.5,613.5L310.0,628.5L317.5,646.0L322.5,663.5L332.5,673.5L345.0,676.0"/>
<path d="M120.0,551.0L127.5,566.0L133.8,586.0L127.5,596.0L120.0,593.5L123.8,603.5L132.5,616.0L140.0,623.5L146.2,636.0L147.5,651.0L145.0,666.0"/>
<path d="M138.8,520.5L142.5,528.0L150.0,538.0L155.0,551.0"/>
<path d="M135.0,551.0L140.0,566.0L146.2,586.0L150.0,606.0L155.0,626.0L160.0,646.0L161.2,658.5L163.8,668.5"/>
<path d="M146.0,512.0L150.0,530.0L155.0,551.0L157.5,566.0L160.0,586.0L167.5,601.0L175.0,613.5L180.0,628.5L187.5,641.0L190.0,651.0L185.0,658.5L192.5,667.0"/>
<path d="M354.0,312.0L353.0,272.5"/>
<path d="M354.0,312.0L356.0,340.0L356.0,363.0L355.0,376.0L360.0,392.0L364.0,411.0L366.0,421.0L372.0,430.0L377.0,440.0L378.0,474.0L379.0,494.0L380.0,532.0L385.0,534.0L386.0,544.0L388.0,558.0L392.0,578.0L390.0,594.0L388.0,604.0"/>
<path d="M356.0,363.0L380.0,362.0L404.0,360.0"/>
<path d="M364.0,411.0L384.0,410.0L404.0,409.0L407.0,414.0"/>
<path d="M404.0,360.0L398.0,348.0L390.0,336.0L387.0,324.0L390.0,318.0L396.0,312.0L402.0,306.0L407.0,301.0"/>
<path d="M404.0,360.0L410.0,372.0L417.0,381.0L414.0,392.0L408.0,400.0L407.0,414.0L410.0,424.0L418.0,434.0L423.0,442.0L424.0,450.0L430.0,456.0L434.0,466.0L435.0,474.0L430.0,486.0L426.0,500.0L422.0,518.0L418.0,542.0L422.0,554.0L418.0,564.0L418.0,576.0L438.0,577.0L440.0,586.0"/>
<path d="M407.0,373.3L436.8,370.7"/>
<path d="M443.0,383.9L445.0,397.0L446.5,410.2L447.4,424.2L445.5,431.0L443.9,438.2L443.5,446.0L442.0,452.3L446.0,451.5L450.9,448.8L456.0,446.0L461.4,441.8L466.0,437.0L470.0,431.2L473.0,426.0L476.3,422.5L479.0,424.5L482.5,424.2L487.0,422.6L491.2,423.3L495.0,424.0L498.2,422.5L501.0,418.0L503.5,413.7L506.0,407.0L508.8,401.4L510.5,395.0L512.3,389.0L511.8,382.0L510.5,375.0L509.5,369.0L508.8,364.6L506.0,358.0"/>
<path d="M435.0,338.0L436.0,360.0L440.0,374.0L444.0,382.0L450.0,380.0"/>
<path d="M450.0,380.0L470.0,376.0L488.0,374.0"/>
<path d="M470.0,376.0L474.0,408.0L476.0,420.0"/>
<path d="M450.0,380.0L452.0,362.0L458.0,344.0L463.0,332.0L468.0,322.0L474.0,318.0L482.0,322.0L478.0,332.0L482.0,348.0L486.0,360.0L488.0,374.0L498.0,364.0L510.0,354.0L518.0,346.0L524.0,342.0"/>
<path d="M516.0,394.0L537.0,386.0L558.0,378.0L572.0,372.0"/>
<path d="M514.0,355.0L536.0,346.5L558.0,338.0L566.0,334.0"/>
<path d="M448.0,470.0L503.0,453.0L558.0,436.0L586.0,427.0"/>
<path d="M330.0,523.0L342.0,527.0L356.0,530.0L370.0,528.0L380.0,532.0"/>
<path d="M386.0,544.0L418.0,542.0"/>
<path d="M378.0,481.0L426.0,478.0L428.0,484.0L424.0,485.0"/>
<path d="M428.0,501.0L480.0,494.0L516.0,486.0L540.0,478.0"/>
<path d="M450.0,498.0L452.0,544.0L458.0,586.0"/>
<path d="M480.0,494.0L490.0,534.0L496.0,558.0L497.0,566.0"/>
<path d="M466.0,569.0L497.0,566.0L532.0,560.0L534.0,554.0L538.0,556.0"/>
<path d="M516.0,486.0L524.0,496.0L530.0,504.0L540.0,520.0"/>
<path d="M498.2,457.5L501.5,453.0L505.3,448.8L509.0,445.5L512.3,441.8L519.0,439.0L526.3,434.7L530.0,426.0L533.3,417.2L537.0,407.0L540.4,397.9L543.0,393.0L545.6,389.0L549.0,392.6L546.0,398.0L552.0,396.0L555.0,388.0L557.9,380.4"/>
<path d="M498.2,422.5L501.0,428.0L505.3,434.7L508.5,438.8L512.3,441.8"/>
<path d="M515.8,452.3L512.3,462.8L505.3,469.8L494.7,478.6"/>
<path d="M521.0,478.6L533.3,475.0L543.9,478.6L551.0,476.8"/>
<path d="M540.0,478.0L552.0,470.0L560.0,472.0L572.0,480.0"/>
<path d="M350.0,636.0L358.0,629.0L366.0,622.0L376.0,610.0L388.0,604.0L398.0,602.0L410.0,604.0L418.0,602.0L430.0,612.0L438.0,608.0L446.0,602.0L450.0,594.0L442.0,588.0L434.0,590.0L432.0,586.0L446.0,585.0L458.0,586.0L462.0,580.0L470.0,576.0L482.0,576.0L490.0,580.0L498.0,586.0L506.0,578.0L514.0,576.0L522.0,582.0L530.0,592.0L534.0,602.0L536.0,612.0L542.0,620.0L546.0,630.0L550.0,634.0L554.0,646.0L556.0,660.0L562.0,668.0L570.0,662.0L576.0,652.0L574.0,642.0L578.0,630.0L576.0,620.0L572.5,616.0L565.0,601.0L555.0,586.0L548.0,576.0L542.0,566.0L538.0,556.0L537.0,544.0L538.0,534.0L540.0,520.0L544.0,508.0L550.0,498.0L560.0,488.0L572.0,480.0L580.0,470.0L584.0,458.0L580.0,448.0L586.0,440.0L584.0,428.0L578.0,416.0L582.0,404.0L576.0,394.0L580.0,384.0L586.0,376.0"/>
<path d="M380.0,601.0L370.0,611.0L360.0,623.5L352.5,633.5L347.5,646.0L345.0,661.0L346.0,676.0L343.8,691.0L341.0,711.0L340.5,736.0"/>
<path d="M524.0,738.0L530.0,726.0L536.0,716.0L544.0,708.0L552.0,700.0L560.0,696.0L568.0,694.0L586.0,690.0L602.0,692.0L616.0,688.0"/>
<path d="M560.0,712.0L572.0,710.0L586.0,714.0L600.0,716.0"/>
<path d="M586.0,376.0L592.0,368.0L600.0,362.0L606.0,358.0"/>
<path d="M540.0,286.2L556.8,277.9L573.5,267.4"/>
<path d="M556.8,277.9L562.0,287.0L567.2,296.7L569.5,306.0L571.4,315.6L572.0,322.0"/>
<path d="M567.2,296.7L578.0,290.0L590.3,284.0"/>
<path d="M572.0,322.0L590.0,316.0L600.0,313.0"/>
<path d="M566.0,334.0L569.0,328.0L572.0,322.0"/>
<path d="M584.0,223.4L579.8,233.8L575.6,248.5L573.5,263.2L575.6,275.8L571.4,286.2L569.0,296.0"/>
<path d="M584.0,223.4L592.4,227.6L598.7,238.0L605.0,248.5L611.3,242.2L617.5,233.8L623.8,227.6"/>
<path d="M545.0,280.0L552.0,272.0L560.0,262.0L566.0,250.0L570.0,238.0L574.0,228.0L578.0,222.0"/>
<path d="M459.0,189.0L463.0,187.0L467.0,190.0L465.0,194.0L461.0,193.0Z"/>
<path d="M198.0,368.0L200.5,366.5L203.0,372.0L204.5,379.0L202.0,382.0L199.5,377.0Z"/>
<path d="M595.0,165.5L601.0,162.0L611.0,160.5L617.5,162.5L612.0,167.0L602.0,168.8Z"/>
<path d="M560.5,617.5L563.0,616.0L564.5,619.0L564.0,623.0L561.5,624.5L560.0,621.0Z"/>
</g>
<g fill="none" stroke="#0a0a0a" stroke-linejoin="round" stroke-linecap="round">
<path d="M133.0,152.0L131.7,155.5L129.0,158.0L126.4,160.4L124.0,163.0L123.4,165.5L121.7,167.5L121.0,170.0L121.6,172.8L124.3,174.8L124.0,178.0L126.2,180.3L124.3,183.6L126.0,186.0L126.3,189.6L125.0,193.0L127.3,194.5L127.1,198.0L130.0,199.0L129.6,202.5L129.0,206.0L130.2,209.2L133.0,211.0L132.6,214.5L132.0,218.0L134.2,220.8L137.0,223.0L139.5,225.5L140.0,229.0L139.2,231.6L138.2,234.2L139.0,237.0L137.0,241.0" stroke-width="1.5"/>
<path d="M137.0,153.0L138.7,155.0L140.1,157.2L140.0,160.0L139.6,162.7L139.7,165.6L138.0,168.0L140.5,169.7L140.9,172.5L142.0,175.0L140.4,177.5L140.4,180.2L141.0,183.0L141.6,185.7L144.4,187.3L145.0,190.0L144.2,192.6L144.3,195.5L143.0,198.0L145.2,199.8L146.7,202.1L147.0,205.0L146.8,208.7L145.0,212.0L145.4,215.6L148.0,218.0L146.4,220.4L145.8,223.1L146.0,226.0L143.9,227.9L144.1,231.1L142.0,233.0L141.0,235.8L139.0,238.0" stroke-width="1.4"/>
<path d="M131.0,216.0L131.8,219.1L133.0,222.0L134.1,225.2L136.0,228.0L134.8,230.5L133.8,233.1L134.0,236.0L135.1,239.2L137.0,242.0" stroke-width="1.2"/>
<path d="M93.0,450.0L94.8,451.3L97.0,452.0L98.2,453.8L100.0,455.0" stroke-width="1.6"/>
<path d="M100.0,466.0L100.6,468.0L101.0,470.0" stroke-width="1.8"/>
<path d="M106.0,480.0L106.7,481.9L107.0,484.0" stroke-width="1.8"/>
<path d="M186.0,655.0L187.6,657.5L189.0,660.0L190.7,661.8L192.0,664.0L193.6,665.7L194.0,668.0" stroke-width="1.8"/>
<path d="M143.0,660.0L143.9,662.5L145.0,665.0L146.0,668.0" stroke-width="1.5"/>
<path d="M428.0,588.0L431.1,589.9L434.0,592.0L437.1,590.6L440.0,589.0L441.2,591.6L444.1,592.3L446.0,594.0L444.0,597.0L442.0,600.0L444.9,602.2L448.0,604.0L446.7,607.5L444.0,610.0L441.0,608.0L438.0,606.0L434.8,607.2L432.0,609.0" stroke-width="1.5"/>
<path d="M422.0,598.0L424.0,599.6L425.8,601.6L428.0,603.0L431.2,601.9L434.0,600.0" stroke-width="1.3"/>
<path d="M380.0,601.0L377.9,603.9L374.7,605.7L372.2,608.2L370.0,611.0L367.3,613.0L366.6,616.5L364.5,618.9L362.7,621.5L360.0,623.5L358.7,626.4L355.8,628.2L355.1,631.5L352.5,633.5L351.2,636.6L350.6,640.0L349.2,643.1L347.5,646.0L347.2,649.0L345.7,651.9L345.7,655.0L346.6,658.2L345.0,661.0" stroke-width="1.2"/>
<path d="M556.0,668.0L559.3,669.5L562.0,672.0L565.1,671.8L568.0,671.0L571.1,669.2L574.0,667.0L576.6,664.4L578.0,661.0" stroke-width="1.3"/>
<path d="M524.0,738.0L526.6,735.5L525.9,731.4L529.0,729.3L530.0,726.0L531.2,722.2L535.1,720.0L536.0,716.0L537.8,712.4L542.0,711.4L544.0,708.0L547.0,705.7L550.0,703.3L552.0,700.0L556.6,699.2L560.0,696.0L563.8,694.3L568.0,694.0L570.9,692.9L574.1,693.2L576.9,691.4L579.9,690.7L582.8,690.0L586.0,690.0L589.1,691.3L592.3,691.8L595.5,692.0L598.9,690.9L602.0,692.0L605.8,692.1L609.0,690.0L612.3,688.3L616.0,688.0L619.5,688.9L623.1,689.8L626.8,689.9L630.0,692.0" stroke-width="1.5"/>
<path d="M536.0,716.0L539.0,715.6L542.0,715.9L545.0,715.8L548.0,716.0L551.0,714.9L553.9,713.8L557.1,713.4L560.0,712.0L562.9,710.9L566.1,711.3L568.8,709.2L572.0,710.0L575.6,710.5L579.1,711.6L582.8,712.1L586.0,714.0L589.4,715.1L593.1,714.5L596.4,716.2L600.0,716.0" stroke-width="1.3"/>
<path d="M540.0,728.0L543.0,730.0L546.0,732.0L549.2,731.6L552.0,730.0" stroke-width="1.4"/>
<path d="M609.0,628.0L610.6,630.4L610.7,633.4L612.0,636.0L613.3,638.6L614.6,641.1L615.0,644.0L615.7,646.7L616.3,649.3L617.0,652.0" stroke-width="1.5"/>
<path d="M596.0,606.0L597.8,609.2L600.0,612.0L601.1,615.2L603.0,618.0" stroke-width="1.3"/>
<path d="M620.0,622.0L622.6,624.5L626.0,626.0L628.9,627.3L632.0,628.0" stroke-width="1.3"/>
<path d="M636.0,634.0L638.4,635.6L639.8,638.2L642.0,640.0L643.8,642.2L646.0,644.0" stroke-width="1.3"/>
<path d="M650.0,648.0L651.5,650.5L654.4,651.6L656.0,654.0L659.3,654.8L662.0,657.0" stroke-width="1.3"/>
<path d="M664.0,640.0L664.3,642.1L664.9,644.1L666.0,646.0" stroke-width="1.3"/>
<path d="M557.9,380.4L556.7,382.7L555.7,385.1L556.5,387.9L554.0,389.8L554.4,392.6L556.0,395.0L555.8,398.0L558.0,400.2L557.9,403.2L559.8,406.0L563.2,407.3L564.9,410.2L566.3,412.8L568.0,415.2L570.2,417.2" stroke-width="1.4"/>
<path d="M565.0,385.6L565.0,388.1L562.9,390.3L562.7,392.8L564.3,395.6L563.0,397.9L562.6,400.7L564.1,402.9L566.6,404.9L564.6,408.2L566.7,410.2L568.3,411.9L569.0,414.1L569.6,416.3L570.0,418.5L572.2,420.0L572.0,422.5L572.1,425.1L572.3,427.7L574.0,429.8L573.8,432.5L575.4,434.7L574.6,437.3L573.5,439.8L575.1,442.8L573.7,445.3L574.8,447.3L575.2,449.5L577.0,451.2L575.1,454.2L577.2,455.8L575.4,457.7L575.5,460.7L572.8,462.0L571.8,464.4L570.2,466.3" stroke-width="1.7"/>
<path d="M575.4,371.6L575.2,374.8L577.1,377.6L577.5,380.7L577.2,383.9L577.3,386.7L579.1,389.4L577.6,392.4L578.0,395.2L579.0,397.9L580.7,400.3L579.7,403.3L580.7,405.8L581.0,408.5L580.8,411.3L582.5,413.7L581.6,416.7L583.4,419.3L582.6,422.2L583.1,425.0L584.2,427.7L583.4,431.0L586.3,433.7L584.4,437.1L586.0,440.0L585.5,443.2L584.6,446.2L582.5,448.8L580.9,451.3L579.1,453.7L577.5,456.1L577.2,459.3L575.7,461.8L573.0,463.5L572.0,466.3" stroke-width="1.4"/>
<path d="M569.0,392.0L569.1,394.6L569.4,397.1L569.2,399.8L571.0,402.0L572.6,404.2L573.7,406.6L572.3,409.8L574.0,412.0L575.2,414.4L575.9,416.9L575.3,419.8L577.0,422.0L578.4,424.3L576.8,427.2L578.5,429.5L579.0,432.0" stroke-width="1.5"/>
<path d="M576.0,470.0L578.8,472.5L580.0,476.0L580.2,478.9L578.4,481.3L578.0,484.0L576.5,486.5L574.6,488.6L572.0,490.0" stroke-width="1.3"/>
<path d="M590.0,366.0L592.4,364.0L595.0,362.7L598.0,362.0L600.7,360.8L603.1,358.8L606.0,358.0L608.6,355.4L612.0,354.0" stroke-width="1.4"/>
<path d="M604.0,346.0L607.0,344.1L610.0,342.0L612.2,343.8L614.0,346.0L612.1,347.7L611.0,350.0" stroke-width="1.4"/>
<path d="M396.0,312.0L399.1,310.1L402.0,308.0L404.5,306.5L406.9,304.9L410.0,305.0L412.8,304.3L415.1,302.3L418.0,302.0L421.3,300.4L425.0,300.0L428.1,301.8L431.0,304.0L434.1,303.3L437.0,302.0L440.0,302.5L442.3,300.6L445.0,300.0L447.8,300.1L450.1,299.1L452.0,297.0L455.3,297.9L458.0,300.0L460.7,301.3L462.0,304.0" stroke-width="1.3"/>
<path d="M425.0,300.0L426.4,297.4L429.0,296.0L431.4,297.0L433.0,299.0" stroke-width="1.3"/>
<path d="M436.0,326.0L437.3,322.5L440.0,320.0L442.7,317.5L446.0,316.0L448.8,313.7L452.0,312.0L455.4,310.7L458.0,308.0L460.0,306.0L462.0,304.0" stroke-width="1.2"/>
<path d="M462.0,304.0L464.7,303.2L467.4,302.3L470.0,301.0L472.6,301.2L474.9,299.5L477.6,299.9L480.0,299.0L482.6,299.7L485.1,299.5L487.4,297.5L490.0,298.0L492.5,300.0L495.2,301.6L498.0,303.0L499.5,305.0L500.1,307.7L502.4,309.0L504.0,311.0L502.8,314.1L500.4,316.6L500.0,320.0L498.4,322.5L497.8,325.5L496.0,328.0L495.7,330.6L494.5,333.0L494.8,335.8L493.0,338.0L492.0,340.4L491.0,342.8L490.9,345.6L490.0,348.0L488.7,350.9L488.0,353.8L488.4,357.0L488.0,360.0" stroke-width="1.3"/>
<path d="M470.0,318.0L473.0,317.1L476.0,316.0L478.9,318.2L482.0,320.0L480.3,322.4L479.2,325.0L479.0,328.0L478.7,330.7L480.3,332.9L479.5,335.7L481.0,338.0L481.9,341.0L482.9,343.9L484.1,346.8L484.0,350.0L484.7,353.0L486.2,355.8L486.7,358.9L487.0,362.0" stroke-width="1.3"/>
<path d="M450.0,380.0L450.5,377.2L451.3,374.5L451.7,371.7L452.3,368.9L452.0,366.0L452.4,363.1L454.5,360.7L454.5,357.6L455.7,354.9L456.0,352.0L457.3,349.8L458.4,347.5L458.0,344.7L458.9,342.3L460.0,340.0L461.4,337.8L462.2,335.3L463.5,333.0L463.7,330.3L465.0,328.0L467.4,325.8L467.5,322.1L470.0,320.0" stroke-width="1.2"/>
<path d="M436.0,338.0L436.3,341.0L435.2,344.0L435.3,347.0L436.0,350.0L435.6,353.1L436.0,356.0L436.2,359.0L437.0,362.0L438.5,364.8L438.3,368.0L439.6,370.9L440.0,374.0L441.4,376.5L443.4,378.6L445.0,381.0" stroke-width="1.2"/>
<path d="M488.0,374.0L490.2,372.5L491.5,369.9L494.2,368.9L496.0,367.0L498.9,365.8L501.4,364.0L503.5,361.8L506.0,360.0L508.2,358.6L509.8,356.6L512.0,355.2L513.5,353.0L516.0,352.0L518.3,350.3L520.1,348.1L521.7,345.7L524.0,344.0" stroke-width="1.2"/>
<path d="M524.0,342.0L526.6,341.2L529.0,339.9L531.6,339.4L534.0,338.0L536.2,336.5L538.9,336.7L541.1,335.4L543.7,335.0L546.0,334.0L549.3,335.0L552.0,337.0L549.5,338.9L546.9,340.7L544.0,342.0L541.1,343.0L537.9,343.1L535.0,344.3L532.0,345.0" stroke-width="1.2"/>
<path d="M603.0,152.0L600.7,154.5L597.8,156.4L595.4,158.8L592.4,160.5L589.9,163.3L587.1,165.7L584.4,168.2L582.0,171.0L581.0,174.6L579.4,178.0L577.7,181.4L577.7,185.1L576.1,188.6L576.5,192.4L575.6,196.0L574.1,198.8L574.7,202.1L573.9,205.1L572.4,207.9L571.4,210.8L570.5,214.0L568.9,217.0L567.6,220.0L567.2,223.4L566.6,227.0L566.5,230.8L565.2,234.3L565.0,238.0L566.1,241.1L567.6,244.2L568.5,247.3L569.3,250.6L570.6,253.8L569.8,257.4L571.4,260.6L571.5,264.0L571.4,267.4" stroke-width="1.2"/>
<path d="M577.7,181.4L580.3,180.8L583.1,181.1L585.4,178.9L588.2,179.3L590.8,178.9L593.5,180.2L596.1,179.6L598.7,179.3L601.3,180.9L602.9,183.5L603.2,186.3L602.1,189.2L602.9,192.0L600.9,194.2L599.4,196.8L596.6,198.2L594.1,198.9L592.8,201.6L590.3,202.4L592.8,202.7L595.3,202.6L597.9,202.3L600.4,203.3L602.9,202.4L606.0,203.2L608.4,205.4L611.3,206.6L614.4,207.3L616.4,210.2L619.6,210.8L622.1,211.6L623.9,213.6L626.0,215.0L628.6,212.2L630.0,208.7L632.1,207.0L632.2,204.0L634.3,202.4" stroke-width="1.4"/>
<path d="M628.0,181.4L629.5,185.0L630.0,188.5" stroke-width="1.5"/>
<path d="M640.6,183.5L641.6,185.9L643.0,188.0L644.6,189.7L644.8,192.0L645.6,193.9L646.0,195.9L646.0,198.0L646.1,200.6L646.9,203.0L648.7,200.6L650.0,198.0L651.6,196.3L651.6,193.7L653.2,192.0L652.5,190.0L652.0,188.0L649.0,186.0L649.0,188.2L648.1,190.1L647.0,192.0L648.2,194.0L649.5,196.0" stroke-width="1.6"/>
<path d="M619.6,210.8L622.3,211.7L624.0,214.0L625.8,215.8L628.0,217.0L630.1,218.6L631.0,221.0L634.3,223.4L636.3,221.2L638.5,219.2L640.5,217.3L642.0,215.0L643.9,213.2L644.8,210.8L646.8,208.6L649.0,206.6" stroke-width="1.5"/>
<path d="M649.0,206.6L648.2,209.9L647.0,213.0L645.8,216.1L644.8,219.2L642.9,221.5L642.8,224.7L641.0,227.0L640.3,230.6L638.5,233.8L638.3,236.8L637.1,239.3L636.3,242.0L634.3,244.3L633.9,247.2L632.1,249.5L630.2,251.8L630.0,254.8L628.6,257.8L628.0,261.0L624.7,259.2L621.7,257.0L621.0,254.4L621.0,251.6L619.8,249.1L619.6,246.4L619.6,243.6L621.9,241.6L622.3,238.9L622.2,236.1L623.8,233.8L624.1,230.9L625.1,228.3L627.8,226.3L628.0,223.4" stroke-width="1.4"/>
<path d="M611.3,242.2L610.7,245.0L609.2,247.5L609.0,250.5L607.0,252.7L606.3,255.5L605.9,258.3L605.0,261.0L602.9,263.2L602.0,266.2L600.9,269.2L598.7,271.6L597.7,274.6L595.4,276.9L594.5,280.0L595.2,282.7L593.4,285.0L594.1,287.6L592.1,289.9L592.4,292.5L591.4,294.9L592.2,297.6L590.3,299.9L590.2,302.4L590.3,305.0L592.4,306.9L593.0,309.6L594.0,312.0L596.7,314.4L600.0,316.0L598.0,318.7L598.0,322.0L600.1,323.5L601.5,325.6L602.0,328.4L604.0,330.0L601.7,332.2L602.2,335.8L600.0,338.0L599.3,340.6L596.5,341.6L595.9,344.3L594.0,346.0L596.2,348.8L598.0,352.0L600.9,352.2L603.5,351.2L606.0,350.0L607.7,353.2L610.0,356.0" stroke-width="1.4"/>
<path d="M556.8,221.3L559.5,221.0L562.0,220.0L564.6,219.5L567.2,219.2" stroke-width="1.5"/>
<path d="M638.5,152.0L640.8,154.0L642.7,156.3L643.5,159.1L644.2,161.9L644.8,164.7L647.8,162.4L651.0,160.5L653.1,158.4L655.1,156.2L657.4,154.2L661.6,152.0" stroke-width="1.3"/>
<path d="M586.0,618.0L587.7,615.7L590.1,614.1L592.0,612.0L593.7,609.7L596.4,608.4L598.0,606.0L601.0,603.9L604.0,602.0L606.6,602.2L609.0,603.0L609.8,605.9L612.0,608.0" stroke-width="1.4"/>
<path d="M612.0,608.0L612.3,610.0L612.6,612.0L613.0,614.0L612.3,615.9L612.5,618.0L612.0,620.0" stroke-width="1.3"/>
<path d="M603.0,650.0L603.7,652.4L606.2,653.7L607.0,656.0L608.4,658.6L611.0,660.0L613.7,661.1L616.0,663.0" stroke-width="1.5"/>
<path d="M606.0,640.0L607.0,642.0L608.0,644.0" stroke-width="1.4"/>
</g>
<text transform="translate(339.70,166.30) scale(1.0880,1)" font-family='"Liberation Sans", sans-serif' font-size="12.5" font-weight="normal" fill="#111" stroke="#111" stroke-width="0.45">x</text>
<text transform="translate(334.50,180.60) scale(0.8735,1)" font-family='"Liberation Sans", sans-serif' font-size="14" font-weight="normal" fill="#111" stroke="#111" stroke-width="0.35">0.2</text>
<text transform="translate(277.70,249.30) scale(1.0880,1)" font-family='"Liberation Sans", sans-serif' font-size="12.5" font-weight="normal" fill="#111" stroke="#111" stroke-width="0.45">x</text>
<text transform="translate(272.50,263.60) scale(0.8735,1)" font-family='"Liberation Sans", sans-serif' font-size="14" font-weight="normal" fill="#111" stroke="#111" stroke-width="0.35">0.1</text>
<text transform="translate(277.70,289.30) scale(1.0880,1)" font-family='"Liberation Sans", sans-serif' font-size="12.5" font-weight="normal" fill="#111" stroke="#111" stroke-width="0.45">x</text>
<text transform="translate(272.50,303.60) scale(0.8735,1)" font-family='"Liberation Sans", sans-serif' font-size="14" font-weight="normal" fill="#111" stroke="#111" stroke-width="0.35">0.1</text>
<text transform="translate(241.70,297.30) scale(1.0880,1)" font-family='"Liberation Sans", sans-serif' font-size="12.5" font-weight="normal" fill="#111" stroke="#111" stroke-width="0.45">x</text>
<text transform="translate(236.50,311.60) scale(0.8735,1)" font-family='"Liberation Sans", sans-serif' font-size="14" font-weight="normal" fill="#111" stroke="#111" stroke-width="0.35">0.2</text>
<text transform="translate(258.70,370.30) scale(1.0880,1)" font-family='"Liberation Sans", sans-serif' font-size="12.5" font-weight="normal" fill="#111" stroke="#111" stroke-width="0.45">x</text>
<text transform="translate(253.50,384.60) scale(0.8735,1)" font-family='"Liberation Sans", sans-serif' font-size="14" font-weight="normal" fill="#111" stroke="#111" stroke-width="0.35">0.5</text>
<text transform="translate(259.70,428.30) scale(1.0880,1)" font-family='"Liberation Sans", sans-serif' font-size="12.5" font-weight="normal" fill="#111" stroke="#111" stroke-width="0.45">x</text>
<text transform="translate(254.50,442.60) scale(0.8735,1)" font-family='"Liberation Sans", sans-serif' font-size="14" font-weight="normal" fill="#111" stroke="#111" stroke-width="0.35">0.5</text>
<text transform="translate(259.70,464.30) scale(1.0880,1)" font-family='"Liberation Sans", sans-serif' font-size="12.5" font-weight="normal" fill="#111" stroke="#111" stroke-width="0.45">x</text>
<text transform="translate(254.50,478.60) scale(0.8735,1)" font-family='"Liberation Sans", sans-serif' font-size="14" font-weight="normal" fill="#111" stroke="#111" stroke-width="0.35">0.6</text>
<text transform="translate(217.70,390.30) scale(1.0880,1)" font-family='"Liberation Sans", sans-serif' font-size="12.5" font-weight="normal" fill="#111" stroke="#111" stroke-width="0.45">x</text>
<text transform="translate(212.50,404.60) scale(0.8735,1)" font-family='"Liberation Sans", sans-serif' font-size="14" font-weight="normal" fill="#111" stroke="#111" stroke-width="0.35">0.1</text>
<text transform="translate(435.70,495.30) scale(1.0880,1)" font-family='"Liberation Sans", sans-serif' font-size="12.5" font-weight="normal" fill="#111" stroke="#111" stroke-width="0.45">x</text>
<text transform="translate(430.50,509.60) scale(0.8735,1)" font-family='"Liberation Sans", sans-serif' font-size="14" font-weight="normal" fill="#111" stroke="#111" stroke-width="0.35">1.1</text>
<text transform="translate(491.20,485.30) scale(1.0880,1)" font-family='"Liberation Sans", sans-serif' font-size="12.5" font-weight="normal" fill="#111" stroke="#111" stroke-width="0.45">x</text>
<text transform="translate(486.00,499.60) scale(0.8735,1)" font-family='"Liberation Sans", sans-serif' font-size="14" font-weight="normal" fill="#111" stroke="#111" stroke-width="0.35">1.6</text>
<text transform="translate(406.70,587.30) scale(1.0880,1)" font-family='"Liberation Sans", sans-serif' font-size="12.5" font-weight="normal" fill="#111" stroke="#111" stroke-width="0.45">x</text>
<text transform="translate(401.50,601.60) scale(0.8735,1)" font-family='"Liberation Sans", sans-serif' font-size="14" font-weight="normal" fill="#111" stroke="#111" stroke-width="0.35">0.9</text>
<text transform="translate(460.20,591.30) scale(1.0880,1)" font-family='"Liberation Sans", sans-serif' font-size="12.5" font-weight="normal" fill="#111" stroke="#111" stroke-width="0.45">x</text>
<text transform="translate(455.00,605.60) scale(0.8735,1)" font-family='"Liberation Sans", sans-serif' font-size="14" font-weight="normal" fill="#111" stroke="#111" stroke-width="0.35">0.6</text>
<text transform="translate(347.70,708.30) scale(1.0880,1)" font-family='"Liberation Sans", sans-serif' font-size="12.5" font-weight="normal" fill="#111" stroke="#111" stroke-width="0.45">x</text>
<text transform="translate(342.50,722.60) scale(0.8735,1)" font-family='"Liberation Sans", sans-serif' font-size="14" font-weight="normal" fill="#111" stroke="#111" stroke-width="0.35">0.2</text>
<text transform="translate(572.70,286.30) scale(1.0880,1)" font-family='"Liberation Sans", sans-serif' font-size="12.5" font-weight="normal" fill="#111" stroke="#111" stroke-width="0.45">x</text>
<text transform="translate(567.50,300.60) scale(0.8735,1)" font-family='"Liberation Sans", sans-serif' font-size="14" font-weight="normal" fill="#111" stroke="#111" stroke-width="0.35">6.5</text>
<text transform="translate(565.70,315.30) scale(1.0880,1)" font-family='"Liberation Sans", sans-serif' font-size="12.5" font-weight="normal" fill="#111" stroke="#111" stroke-width="0.45">x</text>
<text transform="translate(560.50,329.60) scale(0.8735,1)" font-family='"Liberation Sans", sans-serif' font-size="14" font-weight="normal" fill="#111" stroke="#111" stroke-width="0.35">6.0</text>
<text transform="translate(599.70,416.30) scale(1.0880,1)" font-family='"Liberation Sans", sans-serif' font-size="12.5" font-weight="normal" fill="#111" stroke="#111" stroke-width="0.45">x</text>
<text transform="translate(594.50,430.60) scale(0.8735,1)" font-family='"Liberation Sans", sans-serif' font-size="14" font-weight="normal" fill="#111" stroke="#111" stroke-width="0.35">2.9</text>
<text transform="translate(523.70,407.30) scale(1.0880,1)" font-family='"Liberation Sans", sans-serif' font-size="12.5" font-weight="normal" fill="#111" stroke="#111" stroke-width="0.45">x</text>
<text transform="translate(518.50,421.60) scale(0.8735,1)" font-family='"Liberation Sans", sans-serif' font-size="14" font-weight="normal" fill="#111" stroke="#111" stroke-width="0.35">2.2</text>
<text transform="translate(423.70,302.30) scale(1.0880,1)" font-family='"Liberation Sans", sans-serif' font-size="12.5" font-weight="normal" fill="#111" stroke="#111" stroke-width="0.45">x</text>
<text transform="translate(418.50,316.60) scale(0.8735,1)" font-family='"Liberation Sans", sans-serif' font-size="14" font-weight="normal" fill="#111" stroke="#111" stroke-width="0.35">3.5</text>
<text transform="translate(569.70,598.30) scale(1.0880,1)" font-family='"Liberation Sans", sans-serif' font-size="12.5" font-weight="normal" fill="#111" stroke="#111" stroke-width="0.45">x</text>
<text transform="translate(564.50,612.60) scale(0.8735,1)" font-family='"Liberation Sans", sans-serif' font-size="14" font-weight="normal" fill="#111" stroke="#111" stroke-width="0.35">4.3</text>
<text transform="translate(582.70,631.30) scale(1.0880,1)" font-family='"Liberation Sans", sans-serif' font-size="12.5" font-weight="normal" fill="#111" stroke="#111" stroke-width="0.45">x</text>
<text transform="translate(577.50,645.60) scale(0.8735,1)" font-family='"Liberation Sans", sans-serif' font-size="14" font-weight="normal" fill="#111" stroke="#111" stroke-width="0.35">4.3</text>
<text transform="translate(551.70,651.30) scale(1.0880,1)" font-family='"Liberation Sans", sans-serif' font-size="12.5" font-weight="normal" fill="#111" stroke="#111" stroke-width="0.45">x</text>
<text transform="translate(546.50,665.60) scale(0.8735,1)" font-family='"Liberation Sans", sans-serif' font-size="14" font-weight="normal" fill="#111" stroke="#111" stroke-width="0.35">4.0</text>
<rect x="21.8" y="436.20" width="6.6" height="16.72" fill="#ffaeb9" stroke="#555" stroke-width="0.5"/>
<text transform="translate(28.90,458.62) scale(0.7351,1)" font-family='"Liberation Mono", monospace' font-size="17.5" font-weight="normal" fill="#222" stroke="#222" stroke-width="0.35">20.00</text>
<rect x="21.8" y="452.92" width="6.6" height="16.72" fill="#ffff00" stroke="#555" stroke-width="0.5"/>
<text transform="translate(28.90,475.34) scale(0.7351,1)" font-family='"Liberation Mono", monospace' font-size="17.5" font-weight="normal" fill="#222" stroke="#222" stroke-width="0.35">15.00</text>
<rect x="21.8" y="469.64" width="6.6" height="16.72" fill="#ffd700" stroke="#555" stroke-width="0.5"/>
<text transform="translate(28.90,492.06) scale(0.7351,1)" font-family='"Liberation Mono", monospace' font-size="17.5" font-weight="normal" fill="#222" stroke="#222" stroke-width="0.35">10.00</text>
<rect x="21.8" y="486.36" width="6.6" height="16.72" fill="#cd8500" stroke="#555" stroke-width="0.5"/>
<text transform="translate(28.90,508.78) scale(0.7351,1)" font-family='"Liberation Mono", monospace' font-size="17.5" font-weight="normal" fill="#222" stroke="#222" stroke-width="0.35">7.00</text>
<rect x="21.8" y="503.08" width="6.6" height="16.72" fill="#ff7f00" stroke="#555" stroke-width="0.5"/>
<text transform="translate(28.90,525.50) scale(0.7351,1)" font-family='"Liberation Mono", monospace' font-size="17.5" font-weight="normal" fill="#222" stroke="#222" stroke-width="0.35">5.00</text>
<rect x="21.8" y="519.80" width="6.6" height="16.72" fill="#ee4000" stroke="#555" stroke-width="0.5"/>
<text transform="translate(28.90,542.22) scale(0.7351,1)" font-family='"Liberation Mono", monospace' font-size="17.5" font-weight="normal" fill="#222" stroke="#222" stroke-width="0.35">4.00</text>
<rect x="21.8" y="536.52" width="6.6" height="16.72" fill="#cd0000" stroke="#555" stroke-width="0.5"/>
<text transform="translate(28.90,558.94) scale(0.7351,1)" font-family='"Liberation Mono", monospace' font-size="17.5" font-weight="normal" fill="#222" stroke="#222" stroke-width="0.35">3.00</text>
<rect x="21.8" y="553.24" width="6.6" height="16.72" fill="#8b0000" stroke="#555" stroke-width="0.5"/>
<text transform="translate(28.90,575.66) scale(0.7351,1)" font-family='"Liberation Mono", monospace' font-size="17.5" font-weight="normal" fill="#222" stroke="#222" stroke-width="0.35">2.50</text>
<rect x="21.8" y="569.96" width="6.6" height="16.72" fill="#8b008b" stroke="#555" stroke-width="0.5"/>
<text transform="translate(28.90,592.38) scale(0.7351,1)" font-family='"Liberation Mono", monospace' font-size="17.5" font-weight="normal" fill="#222" stroke="#222" stroke-width="0.35">2.00</text>
<rect x="21.8" y="586.68" width="6.6" height="16.72" fill="#912cee" stroke="#555" stroke-width="0.5"/>
<text transform="translate(28.90,609.10) scale(0.7351,1)" font-family='"Liberation Mono", monospace' font-size="17.5" font-weight="normal" fill="#222" stroke="#222" stroke-width="0.35">1.75</text>
<rect x="21.8" y="603.40" width="6.6" height="16.72" fill="#8968cd" stroke="#555" stroke-width="0.5"/>
<text transform="translate(28.90,625.82) scale(0.7351,1)" font-family='"Liberation Mono", monospace' font-size="17.5" font-weight="normal" fill="#222" stroke="#222" stroke-width="0.35">1.50</text>
<rect x="21.8" y="620.12" width="6.6" height="16.72" fill="#00eeee" stroke="#555" stroke-width="0.5"/>
<text transform="translate(28.90,642.54) scale(0.7351,1)" font-family='"Liberation Mono", monospace' font-size="17.5" font-weight="normal" fill="#222" stroke="#222" stroke-width="0.35">1.25</text>
<rect x="21.8" y="636.84" width="6.6" height="16.72" fill="#00b2ee" stroke="#555" stroke-width="0.5"/>
<text transform="translate(28.90,659.26) scale(0.7351,1)" font-family='"Liberation Mono", monospace' font-size="17.5" font-weight="normal" fill="#222" stroke="#222" stroke-width="0.35">1.00</text>
<rect x="21.8" y="653.56" width="6.6" height="16.72" fill="#1e90ff" stroke="#555" stroke-width="0.5"/>
<text transform="translate(28.90,675.98) scale(0.7351,1)" font-family='"Liberation Mono", monospace' font-size="17.5" font-weight="normal" fill="#222" stroke="#222" stroke-width="0.35">0.75</text>
<rect x="21.8" y="670.28" width="6.6" height="16.72" fill="#104e8b" stroke="#555" stroke-width="0.5"/>
<text transform="translate(28.90,692.70) scale(0.7351,1)" font-family='"Liberation Mono", monospace' font-size="17.5" font-weight="normal" fill="#222" stroke="#222" stroke-width="0.35">0.50</text>
<rect x="21.8" y="687.00" width="6.6" height="16.72" fill="#008b00" stroke="#555" stroke-width="0.5"/>
<text transform="translate(28.90,709.42) scale(0.7351,1)" font-family='"Liberation Mono", monospace' font-size="17.5" font-weight="normal" fill="#222" stroke="#222" stroke-width="0.35">0.25</text>
<rect x="21.8" y="703.72" width="6.6" height="16.72" fill="#00cd00" stroke="#555" stroke-width="0.5"/>
<text transform="translate(28.90,726.14) scale(0.7351,1)" font-family='"Liberation Mono", monospace' font-size="17.5" font-weight="normal" fill="#222" stroke="#222" stroke-width="0.35">0.10</text>
<rect x="21.8" y="720.44" width="6.6" height="16.72" fill="#7fff00" stroke="#555" stroke-width="0.5"/>
<text transform="translate(28.90,742.86) scale(0.7351,1)" font-family='"Liberation Mono", monospace' font-size="17.5" font-weight="normal" fill="#222" stroke="#222" stroke-width="0.35">0.01</text>
<rect x="21.8" y="737.16" width="6.6" height="16.72" fill="#ffffff" stroke="#555" stroke-width="0.5"/>
<text transform="translate(73.50,682.20) scale(0.7827,1)" font-family='"Liberation Serif", serif' font-size="13.6" font-weight="bold" fill="#1c1c1c" stroke="#1c1c1c" stroke-width="0.3">WPC 5-DAY QPF</text>
<text transform="translate(73.50,693.58) scale(0.7833,1)" font-family='"Liberation Serif", serif' font-size="13.6" font-weight="bold" fill="#1c1c1c" stroke="#1c1c1c" stroke-width="0.3">ISSUED: 0654Z THU OCT 26 2017</text>
<text transform="translate(73.50,704.96) scale(0.7961,1)" font-family='"Liberation Serif", serif' font-size="13.6" font-weight="bold" fill="#1c1c1c" stroke="#1c1c1c" stroke-width="0.3">VALID:12Z THU OCT 26 2017</text>
<text transform="translate(73.50,716.34) scale(0.7816,1)" font-family='"Liberation Serif", serif' font-size="13.6" font-weight="bold" fill="#1c1c1c" stroke="#1c1c1c" stroke-width="0.3">THRU:12Z TUE OCT 31 2017</text>
<text transform="translate(73.50,727.72) scale(0.7782,1)" font-family='"Liberation Serif", serif' font-size="13.6" font-weight="bold" fill="#1c1c1c" stroke="#1c1c1c" stroke-width="0.3">FORECASTER: WPC</text>
<text transform="translate(73.50,739.10) scale(0.7833,1)" font-family='"Liberation Serif", serif' font-size="13.6" font-weight="bold" fill="#1c1c1c" stroke="#1c1c1c" stroke-width="0.3">DOC/NOAA/NWS/NCEP/WPC</text>
<g transform="translate(633.3,721.5)">
<ellipse rx="30.3" ry="38.5" fill="#fde2da"/>
<path id="nRim" d="M0,34.2 A26.2,33.2 0 1 1 0.01,34.2" fill="none"/>
<text font-family='"Liberation Sans", sans-serif' font-size="3.9" font-weight="bold" fill="#1818f0" stroke="#1818f0" stroke-width="0.45" letter-spacing="0"><textPath href="#nRim" startOffset="1%">U.S. DEPARTMENT OF COMMERCE ✦ NATIONAL OCEANIC AND ATMOSPHERIC ADMINISTRATION ✦</textPath></text>
<clipPath id="ncl"><ellipse cx="0" cy="1" rx="25" ry="31.5"/></clipPath>
<g clip-path="url(#ncl)">
 <rect x="-26" y="-32" width="52" height="66" fill="#00b0ee"/>
 <g transform="translate(-2,-3.5)"><path d="M-26,-32 H30 V-12 C18,-8 12,2 8,8 C4,13 -2,14 -6,8 C-10,0 -16,-8 -26,-14z" fill="#0a0af8"/>
 <path d="M-26,-17 C-16,-12 -10,-2 -6,6 C-2,12 3,12 7,7 C11,0 17,-10 26,-15 L26,-9 C20,-3 15,4 11,9 C13,9 15,10 17,12 C11,12 5,14 0,17 C-4,19 -8,20 -12,19 C-9,17 -6,15 -3,14 C-10,8 -16,-2 -26,-8z" fill="#fde2da"/></g>
</g>
<text transform="translate(-10.6,-11.6) scale(1,1.3)" font-family='"Liberation Sans", sans-serif' font-size="6.6" font-weight="bold" fill="#fde2da" letter-spacing="0.3">NOAA</text>
</g>
</g></g>
<rect x="18.5" y="152" width="653" height="634" fill="none" stroke="#6c8cb6" stroke-width="1.4"/>
</svg></body></html>
